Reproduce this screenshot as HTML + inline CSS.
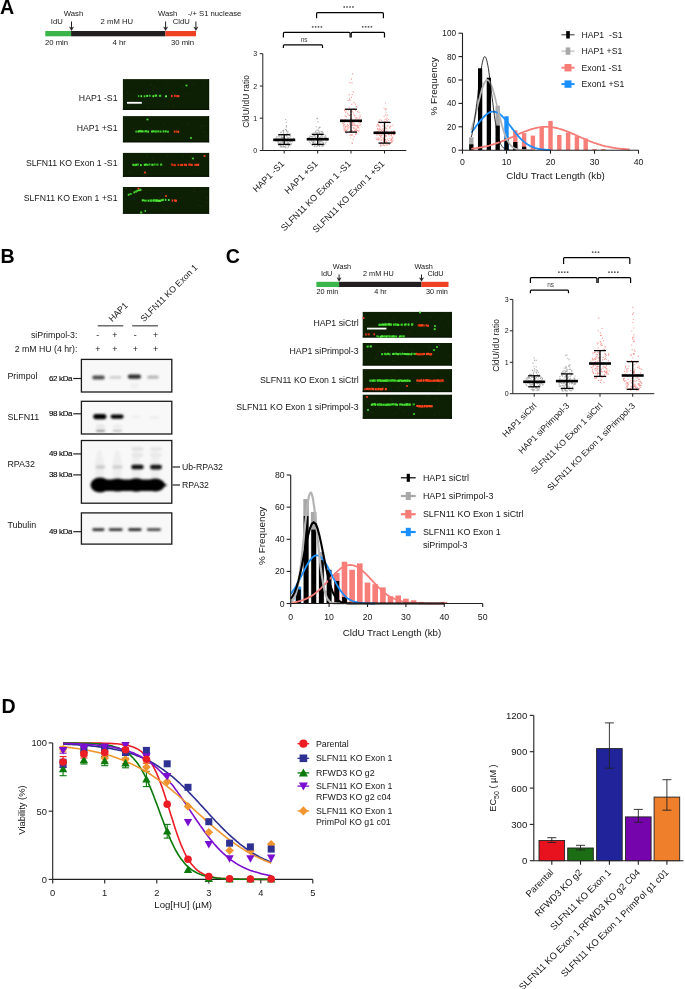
<!DOCTYPE html>
<html><head><meta charset="utf-8"><title>Figure</title>
<style>html,body{margin:0;padding:0;background:#fff;overflow:hidden;} svg{display:block;will-change:transform;}</style>
</head><body>
<svg width="685" height="989" viewBox="0 0 685 989" font-family='"Liberation Sans", sans-serif'>
<defs><filter id="fb" x="-20%" y="-50%" width="140%" height="200%"><feGaussianBlur stdDeviation="0.55"/></filter><filter id="bl" x="-30%" y="-100%" width="160%" height="300%"><feGaussianBlur stdDeviation="1.1"/></filter><filter id="bl2" x="-30%" y="-100%" width="160%" height="300%"><feGaussianBlur stdDeviation="0.8"/></filter></defs>
<rect width="685" height="989" fill="#fff"/>
<text x="0.0" y="14.1" font-size="19.6" text-anchor="start" font-weight="bold" fill="#000" >A</text>
<rect x="45.3" y="31.0" width="25.8" height="5.3" fill="#39b54a" />
<rect x="71.1" y="31.0" width="94.3" height="5.3" fill="#231f20" />
<rect x="165.4" y="31.0" width="30.6" height="5.3" fill="#ef4123" />
<text x="50.8" y="23.5" font-size="7.7" text-anchor="start" font-weight="normal" fill="#161616" >IdU</text>
<text x="63.8" y="16.0" font-size="7.7" text-anchor="start" font-weight="normal" fill="#161616" >Wash</text>
<text x="100.6" y="23.7" font-size="7.7" text-anchor="start" font-weight="normal" fill="#161616" >2 mM HU</text>
<text x="158.0" y="16.0" font-size="7.7" text-anchor="start" font-weight="normal" fill="#161616" >Wash</text>
<text x="172.8" y="23.7" font-size="7.7" text-anchor="start" font-weight="normal" fill="#161616" >CldU</text>
<text x="187.7" y="16.0" font-size="7.7" text-anchor="start" font-weight="normal" fill="#161616" >-/+ S1 nuclease</text>
<text x="45.0" y="45.2" font-size="7.7" text-anchor="start" font-weight="normal" fill="#161616" >20 min</text>
<text x="112.5" y="45.2" font-size="7.7" text-anchor="start" font-weight="normal" fill="#161616" >4 hr</text>
<text x="171.0" y="45.2" font-size="7.7" text-anchor="start" font-weight="normal" fill="#161616" >30 min</text>
<line x1="71.5" y1="21.5" x2="71.5" y2="28.5" stroke="#231f20" stroke-width="1.0" />
<path d="M69.5 26.9 L71.5 30.5 L73.5 26.9 L71.5 28.3Z" fill="#231f20" stroke="#231f20" stroke-width="0.5" stroke-linejoin="round"/>
<line x1="165.6" y1="21.5" x2="165.6" y2="28.5" stroke="#231f20" stroke-width="1.0" />
<path d="M163.6 26.9 L165.6 30.5 L167.6 26.9 L165.6 28.3Z" fill="#231f20" stroke="#231f20" stroke-width="0.5" stroke-linejoin="round"/>
<line x1="195.9" y1="21.5" x2="195.9" y2="28.5" stroke="#231f20" stroke-width="1.0" />
<path d="M193.9 26.9 L195.9 30.5 L197.9 26.9 L195.9 28.3Z" fill="#231f20" stroke="#231f20" stroke-width="0.5" stroke-linejoin="round"/>
<rect x="122.9" y="79.1" width="86.2" height="30.9" fill="#0e2004"/>
<rect x="122.9" y="108.8" width="86.2" height="1.2" fill="#071402"/>
<rect x="208.1" y="79.1" width="1" height="30.9" fill="#091803"/>
<rect x="150.8" y="84.3" width="1.2" height="1.2" fill="#163508"/>
<rect x="129.9" y="95.1" width="1.2" height="1.2" fill="#282408"/>
<rect x="172.4" y="105.5" width="1.2" height="1.2" fill="#202e08"/>
<rect x="127.0" y="92.2" width="1.2" height="1.2" fill="#163508"/>
<rect x="143.9" y="95.5" width="1.2" height="1.2" fill="#163508"/>
<rect x="192.7" y="83.6" width="1.2" height="1.2" fill="#202e08"/>
<rect x="176.4" y="96.4" width="1.2" height="1.2" fill="#163508"/>
<rect x="171.9" y="91.2" width="1.2" height="1.2" fill="#202e08"/>
<rect x="127.8" y="104.1" width="1.2" height="1.2" fill="#282408"/>
<rect x="158.8" y="95.2" width="1.2" height="1.2" fill="#282408"/>
<rect x="170.5" y="99.1" width="1.2" height="1.2" fill="#163508"/>
<rect x="172.3" y="97.9" width="1.2" height="1.2" fill="#282408"/>
<rect x="132.0" y="100.0" width="1.2" height="1.2" fill="#163508"/>
<rect x="175.4" y="93.9" width="1.2" height="1.2" fill="#173306"/>
<rect x="188.6" y="93.1" width="1.2" height="1.2" fill="#173306"/>
<rect x="154.0" y="87.0" width="1.2" height="1.2" fill="#202e08"/>
<rect x="182.1" y="86.9" width="1.2" height="1.2" fill="#282408"/>
<rect x="167.6" y="104.5" width="1.2" height="1.2" fill="#173306"/>
<rect x="147.9" y="107.4" width="1.2" height="1.2" fill="#163508"/>
<rect x="166.5" y="84.7" width="1.2" height="1.2" fill="#282408"/>
<rect x="136.5" y="93.7" width="1.2" height="1.2" fill="#163508"/>
<rect x="203.9" y="82.3" width="1.2" height="1.2" fill="#282408"/>
<rect x="152.2" y="89.9" width="1.2" height="1.2" fill="#173306"/>
<rect x="172.1" y="92.8" width="1.2" height="1.2" fill="#163508"/>
<g filter="url(#fb)">
<rect x="137.9" y="95.1" width="1.4" height="2" fill="#2fb820"/>
<rect x="140.5" y="95.2" width="1.6" height="2" fill="#55e83c"/>
<rect x="143.7" y="95.3" width="1.7" height="2" fill="#3fd22a"/>
<rect x="146.2" y="94.9" width="2.0" height="2" fill="#55e83c"/>
<rect x="149.0" y="94.7" width="1.7" height="2" fill="#2fb820"/>
<rect x="152.4" y="95.2" width="1.6" height="2" fill="#55e83c"/>
<rect x="154.5" y="94.7" width="1.5" height="2" fill="#3fd22a"/>
<rect x="155.3" y="94.6" width="1.8" height="2" fill="#4ae035"/>
<rect x="158.9" y="94.8" width="2.3" height="2" fill="#3fd22a"/>
<rect x="165.0" y="95.3" width="2.0" height="2" fill="#55e83c"/>
<rect x="170.9" y="95.0" width="1.7" height="2.1" fill="#f03a18"/>
<rect x="174.1" y="94.8" width="1.6" height="2.1" fill="#f03a18"/>
<rect x="176.1" y="95.0" width="2.2" height="2.1" fill="#d83010"/>
<rect x="177.9" y="95.1" width="1.4" height="2.1" fill="#ff4a22"/>
<circle cx="186.5" cy="85.5" r="1.1" fill="#41d12e"/>
</g>
<rect x="127.0" y="101.9" width="14.8" height="1.8" fill="#fff" />
<rect x="122.9" y="116.1" width="86.2" height="26.2" fill="#0e2004"/>
<rect x="122.9" y="141.1" width="86.2" height="1.2" fill="#071402"/>
<rect x="208.1" y="116.1" width="1" height="26.2" fill="#091803"/>
<rect x="203.4" y="131.1" width="1.2" height="1.2" fill="#173306"/>
<rect x="134.1" y="136.8" width="1.2" height="1.2" fill="#173306"/>
<rect x="163.9" y="124.3" width="1.2" height="1.2" fill="#202e08"/>
<rect x="132.4" y="125.0" width="1.2" height="1.2" fill="#282408"/>
<rect x="163.7" y="133.2" width="1.2" height="1.2" fill="#163508"/>
<rect x="141.0" y="139.2" width="1.2" height="1.2" fill="#282408"/>
<rect x="136.1" y="129.7" width="1.2" height="1.2" fill="#163508"/>
<rect x="187.0" y="124.0" width="1.2" height="1.2" fill="#163508"/>
<rect x="181.8" y="123.2" width="1.2" height="1.2" fill="#282408"/>
<rect x="199.5" y="125.4" width="1.2" height="1.2" fill="#202e08"/>
<rect x="168.2" y="135.2" width="1.2" height="1.2" fill="#282408"/>
<rect x="176.9" y="131.3" width="1.2" height="1.2" fill="#202e08"/>
<rect x="191.0" y="136.1" width="1.2" height="1.2" fill="#202e08"/>
<rect x="140.5" y="128.5" width="1.2" height="1.2" fill="#163508"/>
<rect x="206.2" y="135.4" width="1.2" height="1.2" fill="#173306"/>
<rect x="145.5" y="133.2" width="1.2" height="1.2" fill="#282408"/>
<rect x="161.1" y="138.8" width="1.2" height="1.2" fill="#282408"/>
<rect x="203.4" y="125.6" width="1.2" height="1.2" fill="#202e08"/>
<rect x="132.4" y="128.0" width="1.2" height="1.2" fill="#282408"/>
<rect x="140.9" y="131.6" width="1.2" height="1.2" fill="#163508"/>
<g filter="url(#fb)">
<rect x="135.4" y="130.6" width="1.4" height="2" fill="#3fd22a"/>
<rect x="137.4" y="130.6" width="1.8" height="2" fill="#4ae035"/>
<rect x="138.4" y="130.2" width="2.2" height="2" fill="#55e83c"/>
<rect x="140.0" y="130.2" width="1.5" height="2" fill="#4ae035"/>
<rect x="141.1" y="130.4" width="2.0" height="2" fill="#55e83c"/>
<rect x="143.3" y="130.4" width="1.4" height="2" fill="#3fd22a"/>
<rect x="145.0" y="130.2" width="2.0" height="2" fill="#4ae035"/>
<rect x="146.1" y="130.6" width="1.5" height="2" fill="#2fb820"/>
<rect x="147.5" y="130.6" width="1.6" height="2" fill="#55e83c"/>
<rect x="151.1" y="130.5" width="2.1" height="2" fill="#55e83c"/>
<rect x="152.7" y="130.2" width="1.5" height="2" fill="#3fd22a"/>
<rect x="154.3" y="130.5" width="2.1" height="2" fill="#4ae035"/>
<rect x="155.1" y="130.5" width="1.9" height="2" fill="#2fb820"/>
<rect x="157.2" y="130.4" width="2.1" height="2" fill="#3fd22a"/>
<rect x="159.7" y="130.6" width="1.8" height="2" fill="#3fd22a"/>
<rect x="162.6" y="130.4" width="1.9" height="2" fill="#4ae035"/>
<rect x="164.9" y="130.4" width="1.8" height="2" fill="#4ae035"/>
<rect x="167.2" y="130.7" width="1.6" height="2" fill="#4ae035"/>
<rect x="173.8" y="130.5" width="1.5" height="2.1" fill="#f03a18"/>
<rect x="175.6" y="130.6" width="2.1" height="2.1" fill="#d83010"/>
<rect x="177.8" y="130.7" width="1.4" height="2.1" fill="#ff4a22"/>
<circle cx="147.5" cy="119.5" r="1.1" fill="#41d12e"/>
<circle cx="191.0" cy="138.0" r="1.1" fill="#41d12e"/>
</g>
<rect x="122.9" y="152.9" width="86.2" height="23.9" fill="#0e2004"/>
<rect x="122.9" y="175.6" width="86.2" height="1.2" fill="#071402"/>
<rect x="208.1" y="152.9" width="1" height="23.9" fill="#091803"/>
<rect x="142.2" y="173.8" width="1.2" height="1.2" fill="#173306"/>
<rect x="197.5" y="157.3" width="1.2" height="1.2" fill="#202e08"/>
<rect x="137.3" y="162.9" width="1.2" height="1.2" fill="#173306"/>
<rect x="152.1" y="158.0" width="1.2" height="1.2" fill="#282408"/>
<rect x="131.6" y="161.5" width="1.2" height="1.2" fill="#282408"/>
<rect x="170.0" y="163.1" width="1.2" height="1.2" fill="#163508"/>
<rect x="155.9" y="164.7" width="1.2" height="1.2" fill="#282408"/>
<rect x="166.5" y="155.2" width="1.2" height="1.2" fill="#202e08"/>
<rect x="204.7" y="156.1" width="1.2" height="1.2" fill="#282408"/>
<rect x="146.5" y="172.8" width="1.2" height="1.2" fill="#202e08"/>
<rect x="146.4" y="156.6" width="1.2" height="1.2" fill="#173306"/>
<rect x="194.6" y="168.0" width="1.2" height="1.2" fill="#282408"/>
<rect x="157.7" y="165.1" width="1.2" height="1.2" fill="#173306"/>
<rect x="182.2" y="155.8" width="1.2" height="1.2" fill="#163508"/>
<rect x="190.4" y="157.7" width="1.2" height="1.2" fill="#163508"/>
<rect x="146.3" y="154.3" width="1.2" height="1.2" fill="#163508"/>
<rect x="190.6" y="155.7" width="1.2" height="1.2" fill="#202e08"/>
<rect x="129.4" y="171.9" width="1.2" height="1.2" fill="#173306"/>
<g filter="url(#fb)">
<rect x="132.3" y="163.8" width="2.2" height="2" fill="#4ae035"/>
<rect x="133.9" y="164.1" width="2.3" height="2" fill="#2fb820"/>
<rect x="135.4" y="163.7" width="1.6" height="2" fill="#4ae035"/>
<rect x="137.2" y="163.6" width="1.6" height="2" fill="#3fd22a"/>
<rect x="140.0" y="164.1" width="1.8" height="2" fill="#4ae035"/>
<rect x="143.8" y="163.8" width="2.1" height="2" fill="#55e83c"/>
<rect x="145.5" y="163.6" width="1.5" height="2" fill="#4ae035"/>
<rect x="146.9" y="163.9" width="1.7" height="2" fill="#2fb820"/>
<rect x="148.6" y="163.5" width="1.9" height="2" fill="#2fb820"/>
<rect x="151.3" y="163.8" width="2.3" height="2" fill="#4ae035"/>
<rect x="153.9" y="163.5" width="1.7" height="2" fill="#2fb820"/>
<rect x="156.2" y="163.6" width="2.3" height="2" fill="#2fb820"/>
<rect x="160.1" y="163.6" width="2.1" height="2" fill="#3fd22a"/>
<rect x="171.2" y="163.6" width="1.9" height="2.1" fill="#d83010"/>
<rect x="173.4" y="164.0" width="2.1" height="2.1" fill="#d83010"/>
<rect x="174.3" y="164.1" width="1.4" height="2.1" fill="#d83010"/>
<rect x="177.4" y="163.8" width="1.7" height="2.1" fill="#d83010"/>
<rect x="179.8" y="164.0" width="2.1" height="2.1" fill="#d83010"/>
<rect x="181.2" y="163.9" width="2.0" height="2.1" fill="#f03a18"/>
<rect x="183.9" y="163.7" width="1.8" height="2.1" fill="#f03a18"/>
<rect x="185.2" y="163.9" width="1.8" height="2.1" fill="#f03a18"/>
<rect x="188.2" y="163.6" width="1.8" height="2.1" fill="#d83010"/>
<rect x="189.4" y="163.5" width="1.6" height="2.1" fill="#d83010"/>
<rect x="190.7" y="163.9" width="1.8" height="2.1" fill="#ff4a22"/>
<rect x="191.4" y="163.7" width="1.3" height="2.1" fill="#d83010"/>
<rect x="194.2" y="163.9" width="1.6" height="2.1" fill="#d83010"/>
<rect x="195.5" y="163.8" width="2.3" height="2.1" fill="#f03a18"/>
<rect x="197.4" y="163.7" width="1.8" height="2.1" fill="#ff4a22"/>
<circle cx="145.0" cy="172.5" r="1.1" fill="#f2401c"/>
<circle cx="193.0" cy="158.5" r="1.1" fill="#41d12e"/>
<circle cx="204.5" cy="156.0" r="1.1" fill="#f2401c"/>
</g>
<rect x="122.9" y="187.0" width="86.2" height="26.7" fill="#0e2004"/>
<rect x="122.9" y="212.5" width="86.2" height="1.2" fill="#071402"/>
<rect x="208.1" y="187.0" width="1" height="26.7" fill="#091803"/>
<rect x="162.7" y="206.2" width="1.2" height="1.2" fill="#202e08"/>
<rect x="149.8" y="190.0" width="1.2" height="1.2" fill="#173306"/>
<rect x="125.4" y="198.9" width="1.2" height="1.2" fill="#173306"/>
<rect x="206.6" y="197.2" width="1.2" height="1.2" fill="#202e08"/>
<rect x="130.1" y="190.1" width="1.2" height="1.2" fill="#282408"/>
<rect x="203.2" y="191.1" width="1.2" height="1.2" fill="#282408"/>
<rect x="197.7" y="204.7" width="1.2" height="1.2" fill="#202e08"/>
<rect x="165.3" y="208.8" width="1.2" height="1.2" fill="#173306"/>
<rect x="126.0" y="188.1" width="1.2" height="1.2" fill="#173306"/>
<rect x="180.6" y="197.6" width="1.2" height="1.2" fill="#202e08"/>
<rect x="158.5" y="196.9" width="1.2" height="1.2" fill="#163508"/>
<rect x="193.8" y="188.0" width="1.2" height="1.2" fill="#282408"/>
<rect x="193.7" y="190.8" width="1.2" height="1.2" fill="#202e08"/>
<rect x="183.2" y="209.4" width="1.2" height="1.2" fill="#282408"/>
<rect x="145.0" y="189.5" width="1.2" height="1.2" fill="#173306"/>
<rect x="207.0" y="202.0" width="1.2" height="1.2" fill="#282408"/>
<rect x="200.9" y="205.9" width="1.2" height="1.2" fill="#163508"/>
<rect x="147.2" y="189.2" width="1.2" height="1.2" fill="#282408"/>
<rect x="176.7" y="191.5" width="1.2" height="1.2" fill="#282408"/>
<rect x="160.2" y="195.5" width="1.2" height="1.2" fill="#282408"/>
<g filter="url(#fb)">
<rect x="141.8" y="199.3" width="2.1" height="2" fill="#55e83c"/>
<rect x="144.0" y="199.6" width="2.0" height="2" fill="#3fd22a"/>
<rect x="146.2" y="199.7" width="1.4" height="2" fill="#2fb820"/>
<rect x="147.9" y="199.6" width="1.5" height="2" fill="#55e83c"/>
<rect x="149.8" y="199.7" width="2.3" height="2" fill="#2fb820"/>
<rect x="149.9" y="199.6" width="2.0" height="2" fill="#3fd22a"/>
<rect x="151.4" y="199.6" width="1.5" height="2" fill="#2fb820"/>
<rect x="153.0" y="199.4" width="1.5" height="2" fill="#3fd22a"/>
<rect x="153.0" y="199.5" width="1.7" height="2" fill="#4ae035"/>
<rect x="154.6" y="199.5" width="1.7" height="2" fill="#4ae035"/>
<rect x="154.9" y="199.3" width="1.6" height="2" fill="#2fb820"/>
<rect x="155.5" y="199.7" width="2.2" height="2" fill="#4ae035"/>
<rect x="156.3" y="199.5" width="1.9" height="2" fill="#55e83c"/>
<rect x="158.0" y="199.8" width="1.3" height="2" fill="#3fd22a"/>
<rect x="158.3" y="199.8" width="2.3" height="2" fill="#55e83c"/>
<rect x="158.7" y="199.9" width="2.1" height="2" fill="#55e83c"/>
<rect x="160.5" y="199.4" width="1.5" height="2" fill="#3fd22a"/>
<rect x="161.4" y="199.1" width="2.1" height="2" fill="#55e83c"/>
<rect x="162.4" y="198.7" width="1.4" height="2" fill="#3fd22a"/>
<rect x="164.8" y="198.8" width="1.6" height="2" fill="#55e83c"/>
<rect x="167.9" y="199.0" width="1.7" height="2" fill="#4ae035"/>
<rect x="127.8" y="193.8" width="1.6" height="2" fill="#4ae035"/>
<rect x="129.5" y="193.0" width="2.3" height="2" fill="#2fb820"/>
<rect x="133.4" y="191.4" width="1.5" height="2" fill="#55e83c"/>
<rect x="135.2" y="190.6" width="1.6" height="2" fill="#55e83c"/>
<rect x="136.4" y="189.8" width="1.6" height="2" fill="#3fd22a"/>
<rect x="138.0" y="189.2" width="2.1" height="2" fill="#4ae035"/>
<rect x="140.0" y="188.8" width="1.4" height="2" fill="#55e83c"/>
<rect x="140.1" y="211.5" width="2.2" height="2" fill="#3fd22a"/>
<rect x="144.6" y="210.0" width="1.4" height="2" fill="#3fd22a"/>
<rect x="171.6" y="199.5" width="1.4" height="2.1" fill="#f03a18"/>
<rect x="173.7" y="199.4" width="2.2" height="2.1" fill="#d83010"/>
<rect x="174.8" y="199.7" width="2.1" height="2.1" fill="#ff4a22"/>
<circle cx="138.5" cy="188.5" r="1.1" fill="#f2401c"/>
<circle cx="166.0" cy="196.0" r="1.1" fill="#f2401c"/>
</g>
<text x="117.5" y="100.5" font-size="8.7" text-anchor="end" font-weight="normal" fill="#161616" >HAP1 -S1</text>
<text x="117.5" y="130.7" font-size="8.7" text-anchor="end" font-weight="normal" fill="#161616" >HAP1 +S1</text>
<text x="117.5" y="166.0" font-size="8.7" text-anchor="end" font-weight="normal" fill="#161616" >SLFN11 KO Exon 1 -S1</text>
<text x="117.5" y="200.5" font-size="8.7" text-anchor="end" font-weight="normal" fill="#161616" >SLFN11 KO Exon 1 +S1</text>
<line x1="262.8" y1="53.7" x2="262.8" y2="150.5" stroke="#231f20" stroke-width="1" />
<line x1="262.8" y1="150.5" x2="406.3" y2="150.5" stroke="#231f20" stroke-width="1" />
<line x1="259.8" y1="150.5" x2="262.8" y2="150.5" stroke="#231f20" stroke-width="1" />
<text x="257.2" y="153.0" font-size="7.0" text-anchor="end" font-weight="normal" fill="#161616" >0</text>
<line x1="259.8" y1="118.2" x2="262.8" y2="118.2" stroke="#231f20" stroke-width="1" />
<text x="257.2" y="120.7" font-size="7.0" text-anchor="end" font-weight="normal" fill="#161616" >1</text>
<line x1="259.8" y1="86.0" x2="262.8" y2="86.0" stroke="#231f20" stroke-width="1" />
<text x="257.2" y="88.5" font-size="7.0" text-anchor="end" font-weight="normal" fill="#161616" >2</text>
<line x1="259.8" y1="53.7" x2="262.8" y2="53.7" stroke="#231f20" stroke-width="1" />
<text x="257.2" y="56.2" font-size="7.0" text-anchor="end" font-weight="normal" fill="#161616" >3</text>
<line x1="284.2" y1="150.5" x2="284.2" y2="153.5" stroke="#231f20" stroke-width="1" />
<path d="M277.7 138.1h1M276.6 138.9h1M279.7 146.1h1M285.3 135.0h1M281.5 139.6h1M288.0 144.6h1M276.8 139.4h1M277.4 144.0h1M277.1 139.2h1M289.9 141.8h1M282.2 140.7h1M285.4 142.9h1M289.8 144.9h1M288.8 141.2h1M278.9 143.4h1M282.8 132.8h1M280.8 146.6h1M277.8 138.8h1M275.5 139.8h1M283.0 133.1h1M288.2 143.7h1M289.4 137.2h1M286.7 147.7h1M280.5 137.9h1M290.9 139.3h1M275.5 138.2h1M290.8 143.5h1M281.0 142.7h1M285.4 146.0h1M285.0 129.5h1M280.7 132.1h1M288.1 137.7h1M287.1 143.9h1M287.9 147.0h1M286.9 141.0h1M288.0 146.3h1M286.1 135.8h1M285.2 147.7h1M278.2 138.8h1M283.7 141.9h1M285.5 141.0h1M278.3 145.1h1M292.7 138.4h1M279.7 145.0h1M281.4 138.8h1M277.8 142.2h1M293.5 140.5h1M290.5 139.8h1M279.3 136.1h1M291.5 141.6h1M290.9 140.8h1M287.3 142.4h1M287.5 139.0h1M283.1 130.3h1M283.0 146.0h1M283.4 137.8h1M289.0 144.7h1M289.7 140.2h1M286.8 137.2h1M281.3 135.7h1M280.0 143.1h1M282.6 144.3h1M281.9 142.6h1M284.3 140.6h1M278.2 141.9h1M274.4 138.8h1M289.7 133.8h1M283.6 136.9h1M283.2 138.5h1M285.8 135.0h1M285.6 126.9h1M290.8 140.8h1M290.3 138.7h1M282.4 137.6h1M280.3 147.2h1M281.6 137.4h1M282.6 145.5h1M289.8 141.9h1M284.3 139.1h1M286.6 143.8h1M275.1 140.6h1M278.3 136.1h1M292.6 139.9h1M281.2 136.1h1M288.0 142.7h1M276.0 138.7h1M289.2 139.5h1M290.3 135.9h1M286.9 137.2h1M289.6 141.6h1M276.4 136.5h1M275.8 138.4h1M286.5 139.7h1M286.4 133.9h1M276.6 141.2h1M277.2 141.7h1M291.7 141.1h1M280.0 139.6h1M286.0 129.8h1M290.1 139.6h1M287.9 139.2h1M287.1 134.6h1M281.5 146.8h1M287.4 132.8h1M286.4 139.7h1M279.4 138.3h1M282.6 147.2h1M285.6 145.2h1M292.2 139.2h1M283.4 138.1h1M280.0 142.9h1M293.5 140.1h1M284.0 146.5h1M285.4 144.9h1M286.5 140.1h1M279.0 140.3h1M282.5 144.8h1M280.6 145.6h1M282.3 140.6h1M286.9 138.8h1M279.8 140.6h1M280.8 138.6h1M281.8 138.5h1M290.0 139.9h1M279.6 141.0h1M287.6 145.3h1M275.8 137.8h1M289.3 144.4h1M290.7 144.5h1M283.6 135.0h1M284.6 138.8h1M288.0 139.3h1M289.1 145.4h1M279.2 139.7h1M284.5 147.1h1M289.2 135.1h1M288.8 141.3h1M281.9 142.3h1M283.0 146.7h1M281.7 141.3h1M278.2 142.9h1M281.1 137.5h1M280.3 132.7h1M278.8 140.4h1M286.4 141.2h1M293.3 139.1h1M280.1 140.1h1M284.4 146.6h1M282.7 131.6h1M293.4 138.9h1M285.7 122.5h1M286.0 125.9h1M287.2 131.4h1M285.9 131.1h1M285.2 119.5h1M282.4 130.5h1" stroke="#aaaaaa" stroke-width="1.15" fill="none"/>
<line x1="317.7" y1="150.5" x2="317.7" y2="153.5" stroke="#231f20" stroke-width="1" />
<path d="M319.6 141.0h1M317.5 132.4h1M314.4 143.3h1M322.2 136.9h1M321.4 133.7h1M308.8 137.5h1M318.1 140.4h1M309.8 140.2h1M317.3 133.1h1M309.3 137.0h1M318.9 141.2h1M320.3 133.5h1M322.2 144.3h1M319.2 140.3h1M313.5 140.1h1M316.5 136.7h1M318.0 145.5h1M315.6 132.2h1M322.7 138.7h1M308.9 138.5h1M314.9 136.7h1M313.9 146.6h1M321.4 140.9h1M324.2 138.7h1M324.5 134.7h1M318.8 133.4h1M326.7 140.3h1M317.8 130.1h1M319.2 137.5h1M310.9 139.6h1M322.3 134.7h1M322.2 146.0h1M314.5 145.2h1M312.0 142.4h1M323.0 145.0h1M323.0 139.8h1M317.5 139.1h1M327.5 139.1h1M318.9 138.2h1M309.8 138.8h1M314.3 138.0h1M310.5 136.5h1M325.7 137.2h1M325.3 140.4h1M320.8 144.8h1M316.6 144.0h1M320.5 137.5h1M315.9 134.3h1M315.8 146.3h1M316.3 140.0h1M318.5 142.3h1M312.7 143.4h1M324.8 143.7h1M319.8 143.1h1M322.6 132.7h1M311.1 136.5h1M318.5 131.2h1M321.5 139.5h1M318.9 145.4h1M308.5 138.3h1M319.0 143.0h1M318.0 135.4h1M324.7 137.5h1M316.7 140.3h1M318.7 140.9h1M314.5 141.8h1M317.1 135.3h1M321.5 139.3h1M313.0 140.8h1M312.7 141.2h1M316.5 130.4h1M319.1 146.4h1M320.9 135.5h1M317.8 140.6h1M315.3 132.5h1M322.4 136.9h1M323.2 142.5h1M318.9 146.1h1M318.8 127.6h1M322.7 145.8h1M321.5 142.5h1M318.3 128.2h1M314.8 137.5h1M312.6 140.5h1M325.6 142.3h1M312.9 139.3h1M321.6 131.3h1M324.1 144.6h1M311.1 138.3h1M320.5 136.4h1M312.3 136.4h1M311.0 140.9h1M313.0 144.4h1M314.7 134.8h1M315.7 146.3h1M315.3 132.5h1M315.9 126.7h1M322.0 145.9h1M314.0 135.8h1M322.8 144.4h1M317.3 145.3h1M308.1 138.1h1M324.6 138.0h1M316.4 139.2h1M313.1 135.7h1M327.2 140.2h1M315.5 132.6h1M311.9 145.1h1M314.4 144.4h1M321.3 135.0h1M309.0 142.0h1M312.7 140.4h1M324.2 136.8h1M321.7 138.7h1M319.3 141.3h1M320.5 141.3h1M320.8 131.5h1M321.0 140.3h1M320.4 136.5h1M325.2 138.7h1M320.5 140.1h1M319.3 140.4h1M312.4 137.8h1M311.4 138.6h1M312.7 134.0h1M317.0 145.9h1M313.9 135.3h1M318.7 127.4h1M321.5 146.4h1M312.7 140.8h1M316.5 133.1h1M320.3 145.0h1M311.0 140.4h1M322.6 144.0h1M317.4 139.1h1M309.7 135.8h1M319.5 127.3h1M318.0 136.6h1M319.3 132.1h1M323.2 143.6h1M321.6 132.1h1M315.1 134.8h1M309.9 143.0h1M322.8 143.4h1M322.5 133.2h1M313.5 132.6h1M313.2 141.7h1M313.0 142.5h1M321.8 141.2h1M325.3 135.9h1M315.1 131.3h1M317.1 118.2h1M324.5 138.1h1M317.5 122.0h1M316.5 118.6h1M317.6 121.8h1" stroke="#aaaaaa" stroke-width="1.15" fill="none"/>
<line x1="351.0" y1="150.5" x2="351.0" y2="153.5" stroke="#231f20" stroke-width="1" />
<path d="M349.0 98.9h1M355.3 120.8h1M344.6 128.0h1M359.6 115.2h1M342.9 123.1h1M358.1 131.4h1M349.1 115.6h1M352.1 122.9h1M350.1 138.0h1M352.4 124.4h1M349.0 124.2h1M345.9 133.1h1M342.9 127.0h1M356.6 127.7h1M350.5 125.0h1M356.3 120.1h1M348.7 94.9h1M351.0 110.8h1M351.6 131.0h1M349.2 131.3h1M344.6 126.4h1M354.3 124.7h1M354.5 125.6h1M356.9 111.6h1M349.3 82.6h1M343.5 129.1h1M351.5 82.9h1M353.5 123.4h1M345.3 127.7h1M354.3 121.1h1M358.3 119.0h1M349.5 124.1h1M343.0 120.6h1M358.4 128.0h1M343.7 130.8h1M356.1 132.4h1M343.8 120.3h1M347.6 127.1h1M354.2 130.4h1M355.3 134.6h1M344.7 119.6h1M344.0 130.7h1M347.5 100.3h1M352.3 122.9h1M352.2 130.9h1M356.3 133.3h1M351.0 135.1h1M351.4 119.1h1M357.5 120.6h1M353.3 102.6h1M349.9 131.4h1M352.6 139.3h1M349.3 127.0h1M344.6 131.0h1M354.4 115.9h1M352.1 134.9h1M358.6 130.2h1M353.1 109.0h1M344.8 126.9h1M354.9 110.4h1M351.9 125.3h1M343.1 125.3h1M350.5 117.7h1M358.4 125.7h1M353.4 125.5h1M349.8 111.9h1M344.2 109.4h1M354.1 115.4h1M358.1 131.3h1M352.7 91.9h1M346.6 130.1h1M343.7 124.2h1M350.6 132.5h1M347.3 128.8h1M352.4 121.6h1M350.0 118.7h1M355.5 125.9h1M355.7 106.3h1M349.5 135.2h1M354.8 130.3h1M354.8 118.0h1M345.7 110.8h1M356.2 121.1h1M347.5 128.3h1M351.9 130.8h1M351.0 114.7h1M353.4 131.9h1M356.9 130.5h1M359.1 118.0h1M342.2 123.1h1M344.1 110.6h1M343.7 128.8h1M357.7 127.4h1M354.2 128.1h1M353.0 128.5h1M348.8 122.3h1M349.6 100.3h1M352.6 112.2h1M359.7 124.8h1M357.1 126.5h1M352.9 114.0h1M347.7 114.8h1M359.6 116.9h1M354.4 130.8h1M350.6 131.3h1M344.9 126.2h1M356.4 106.8h1M345.0 129.8h1M360.0 122.4h1M344.7 116.1h1M355.0 132.8h1M350.6 130.4h1M356.4 117.6h1M350.2 114.3h1M346.8 126.1h1M354.7 131.5h1M347.9 125.5h1M347.9 109.9h1M351.8 143.5h1M351.8 94.5h1M356.7 125.2h1M352.7 127.5h1M356.7 130.2h1M354.1 109.4h1M341.4 119.4h1M344.1 122.2h1M357.2 125.4h1M351.6 142.8h1M360.5 121.0h1M346.4 126.3h1M349.7 134.9h1M348.5 120.9h1M356.3 118.1h1M346.0 116.7h1M350.1 126.6h1M354.8 119.9h1M348.8 107.9h1M347.1 113.3h1M345.8 130.4h1M355.0 104.1h1M353.6 136.9h1M355.7 128.9h1M346.9 124.4h1M345.2 112.4h1M358.7 122.6h1M360.8 119.2h1M344.3 124.7h1M358.6 112.2h1M355.6 130.1h1M352.0 122.2h1M352.1 73.8h1M351.0 79.1h1M351.3 104.3h1M351.6 111.1h1M350.9 97.3h1M348.9 115.2h1" stroke="#f59a96" stroke-width="1.15" fill="none"/>
<line x1="384.5" y1="150.5" x2="384.5" y2="153.5" stroke="#231f20" stroke-width="1" />
<path d="M382.3 131.7h1M383.4 143.6h1M378.7 126.3h1M390.9 135.8h1M392.3 125.2h1M377.4 131.9h1M386.9 139.1h1M383.8 145.6h1M384.7 135.9h1M384.7 135.6h1M383.6 141.0h1M389.6 126.7h1M391.5 140.9h1M380.5 136.6h1M382.2 125.3h1M375.4 131.6h1M383.0 140.2h1M380.2 135.8h1M378.2 131.0h1M390.1 140.1h1M384.9 139.6h1M379.2 135.2h1M378.1 134.2h1M386.5 131.1h1M391.1 132.5h1M390.9 140.2h1M388.2 140.5h1M389.2 138.2h1M378.0 131.8h1M380.1 144.9h1M387.9 134.6h1M386.0 120.0h1M378.7 128.8h1M381.3 139.9h1M375.6 138.0h1M388.3 134.2h1M384.9 135.8h1M391.3 133.1h1M392.3 137.0h1M384.7 119.3h1M381.6 129.7h1M380.2 131.6h1M386.8 125.9h1M391.5 141.0h1M377.5 139.2h1M382.8 137.7h1M389.3 127.9h1M377.8 137.7h1M387.3 125.8h1M379.7 129.1h1M385.4 142.0h1M392.5 140.1h1M379.3 119.8h1M386.5 118.1h1M385.4 144.2h1M389.6 123.0h1M381.6 132.7h1M393.0 134.6h1M391.5 141.7h1M378.7 122.4h1M382.8 144.9h1M379.4 133.7h1M387.1 115.2h1M390.4 142.3h1M388.3 143.2h1M389.1 144.3h1M386.0 135.9h1M391.7 138.1h1M380.6 137.3h1M377.1 128.6h1M385.7 108.6h1M383.8 121.4h1M376.4 139.4h1M390.5 135.2h1M377.4 129.7h1M380.3 140.2h1M376.3 133.8h1M385.4 114.9h1M379.9 122.7h1M383.6 108.5h1M385.2 121.8h1M393.5 130.8h1M376.3 126.1h1M393.0 131.5h1M387.6 143.9h1M379.9 136.1h1M391.2 134.3h1M386.5 142.0h1M383.8 128.1h1M379.4 130.2h1M383.5 128.6h1M381.6 134.8h1M376.6 135.1h1M380.0 142.8h1M381.3 142.9h1M383.8 130.1h1M385.8 141.1h1M389.7 133.5h1M378.1 140.0h1M377.3 129.1h1M390.8 140.2h1M385.3 127.7h1M379.6 127.2h1M381.3 145.3h1M387.4 126.0h1M383.9 139.8h1M383.6 116.1h1M391.5 141.0h1M377.3 123.8h1M385.5 115.2h1M386.9 121.1h1M386.3 128.7h1M386.0 142.1h1M378.5 121.6h1M393.8 131.0h1M379.7 146.3h1M382.2 126.0h1M382.7 138.2h1M391.2 131.5h1M388.8 134.6h1M390.3 126.1h1M385.7 136.2h1M394.1 134.6h1M381.0 130.5h1M382.8 139.2h1M385.6 128.5h1M381.1 135.5h1M378.5 139.4h1M386.6 145.1h1M381.7 129.0h1M391.0 138.8h1M387.8 133.2h1M376.2 139.5h1M376.7 131.7h1M380.9 120.2h1M381.0 133.3h1M379.3 138.7h1M385.6 112.2h1M379.1 135.3h1M382.9 130.6h1M383.0 141.8h1M394.4 132.3h1M383.6 128.4h1M377.4 124.6h1M391.5 142.2h1M391.2 142.6h1M378.2 122.4h1M390.8 139.1h1M386.9 132.8h1M392.0 138.2h1M385.2 109.6h1M385.0 103.0h1M387.9 119.5h1M377.1 124.7h1M377.9 125.4h1M378.3 125.5h1" stroke="#f59a96" stroke-width="1.15" fill="none"/>
<line x1="284.2" y1="134.7" x2="284.2" y2="144.4" stroke="#000" stroke-width="1.3" />
<line x1="278.2" y1="134.7" x2="290.2" y2="134.7" stroke="#000" stroke-width="1.3" />
<line x1="278.2" y1="144.4" x2="290.2" y2="144.4" stroke="#000" stroke-width="1.3" />
<line x1="273.2" y1="139.9" x2="295.2" y2="139.9" stroke="#000" stroke-width="2.6" />
<line x1="317.7" y1="134.4" x2="317.7" y2="144.4" stroke="#000" stroke-width="1.3" />
<line x1="311.7" y1="134.4" x2="323.7" y2="134.4" stroke="#000" stroke-width="1.3" />
<line x1="311.7" y1="144.4" x2="323.7" y2="144.4" stroke="#000" stroke-width="1.3" />
<line x1="306.7" y1="139.2" x2="328.7" y2="139.2" stroke="#000" stroke-width="2.6" />
<line x1="351.0" y1="109.2" x2="351.0" y2="132.1" stroke="#000" stroke-width="1.3" />
<line x1="345.0" y1="109.2" x2="357.0" y2="109.2" stroke="#000" stroke-width="1.3" />
<line x1="345.0" y1="132.1" x2="357.0" y2="132.1" stroke="#000" stroke-width="1.3" />
<line x1="340.0" y1="120.8" x2="362.0" y2="120.8" stroke="#000" stroke-width="2.6" />
<line x1="384.5" y1="122.4" x2="384.5" y2="143.1" stroke="#000" stroke-width="1.3" />
<line x1="378.5" y1="122.4" x2="390.5" y2="122.4" stroke="#000" stroke-width="1.3" />
<line x1="378.5" y1="143.1" x2="390.5" y2="143.1" stroke="#000" stroke-width="1.3" />
<line x1="373.5" y1="132.8" x2="395.5" y2="132.8" stroke="#000" stroke-width="2.6" />
<text transform="translate(249.0 101.5) rotate(-90)" font-size="8.4" text-anchor="middle" fill="#161616">CldU/IdU ratio</text>
<path d="M283.4 48.1 V45.9 Q283.4 44.9 284.4 44.9 H321.5 Q322.5 44.9 322.5 45.9 V48.1" fill="none" stroke="#000" stroke-width="1.2"/>
<text x="304.1" y="41.5" font-size="6.5" text-anchor="middle" font-weight="normal" fill="#444" >ns</text>
<path d="M283.4 37.4 V33.4 Q283.4 32.4 284.4 32.4 H349.1 Q350.1 32.4 350.1 33.4 V37.4" fill="none" stroke="#000" stroke-width="1.2"/>
<path d="M351.2 37.4 V33.4 Q351.2 32.4 352.2 32.4 H383.5 Q384.5 32.4 384.5 33.4 V37.4" fill="none" stroke="#000" stroke-width="1.2"/>
<path d="M316.6 18.2 V13.7 Q316.6 12.7 317.6 12.7 H382.4 Q383.4 12.7 383.4 13.7 V18.2" fill="none" stroke="#000" stroke-width="1.2"/>
<rect x="311.9" y="26.1" width="1.6" height="1.6" fill="#5a5a5a" />
<rect x="314.8" y="26.1" width="1.6" height="1.6" fill="#5a5a5a" />
<rect x="317.7" y="26.1" width="1.6" height="1.6" fill="#5a5a5a" />
<rect x="320.6" y="26.1" width="1.6" height="1.6" fill="#5a5a5a" />
<rect x="361.9" y="26.0" width="1.6" height="1.6" fill="#5a5a5a" />
<rect x="364.8" y="26.0" width="1.6" height="1.6" fill="#5a5a5a" />
<rect x="367.7" y="26.0" width="1.6" height="1.6" fill="#5a5a5a" />
<rect x="370.6" y="26.0" width="1.6" height="1.6" fill="#5a5a5a" />
<rect x="343.4" y="6.2" width="1.6" height="1.6" fill="#5a5a5a" />
<rect x="346.2" y="6.2" width="1.6" height="1.6" fill="#5a5a5a" />
<rect x="349.2" y="6.2" width="1.6" height="1.6" fill="#5a5a5a" />
<rect x="352.1" y="6.2" width="1.6" height="1.6" fill="#5a5a5a" />
<text transform="translate(284.7 164.5) rotate(-45)" font-size="9" text-anchor="end" fill="#161616">HAP1 -S1</text>
<text transform="translate(318.2 164.5) rotate(-45)" font-size="9" text-anchor="end" fill="#161616">HAP1 +S1</text>
<text transform="translate(351.5 164.5) rotate(-45)" font-size="9" text-anchor="end" fill="#161616">SLFN11 KO Exon 1 -S1</text>
<text transform="translate(385.0 164.5) rotate(-45)" font-size="9" text-anchor="end" fill="#161616">SLFN11 KO Exon 1 +S1</text>
<rect x="469.1" y="137.3" width="4.4" height="12.9" fill="#a8a8a8" />
<rect x="477.9" y="82.3" width="4.4" height="67.9" fill="#a8a8a8" />
<rect x="486.7" y="80.0" width="4.4" height="70.2" fill="#a8a8a8" />
<rect x="495.5" y="105.7" width="4.4" height="44.5" fill="#a8a8a8" />
<rect x="504.3" y="136.2" width="4.4" height="14.0" fill="#a8a8a8" />
<rect x="513.1" y="145.5" width="4.4" height="4.7" fill="#a8a8a8" />
<rect x="521.9" y="147.9" width="4.4" height="2.3" fill="#a8a8a8" />
<rect x="513.1" y="130.3" width="4.4" height="19.9" fill="#f77d79" />
<rect x="521.9" y="133.2" width="4.4" height="17.0" fill="#f77d79" />
<rect x="530.7" y="135.6" width="4.4" height="14.6" fill="#f77d79" />
<rect x="539.5" y="126.8" width="4.4" height="23.4" fill="#f77d79" />
<rect x="548.3" y="120.9" width="4.4" height="29.2" fill="#f77d79" />
<rect x="557.1" y="135.0" width="4.4" height="15.2" fill="#f77d79" />
<rect x="565.9" y="132.6" width="4.4" height="17.5" fill="#f77d79" />
<rect x="574.7" y="136.2" width="4.4" height="14.0" fill="#f77d79" />
<rect x="583.5" y="138.5" width="4.4" height="11.7" fill="#f77d79" />
<rect x="592.3" y="149.0" width="4.4" height="1.2" fill="#f77d79" />
<rect x="601.1" y="149.0" width="4.4" height="1.2" fill="#f77d79" />
<rect x="504.3" y="116.3" width="4.4" height="33.9" fill="#1a8fff" />
<rect x="469.2" y="144.3" width="4.2" height="5.8" fill="#000" />
<rect x="478.0" y="68.3" width="4.2" height="81.9" fill="#000" />
<rect x="486.8" y="77.7" width="4.2" height="72.5" fill="#000" />
<rect x="495.6" y="125.6" width="4.2" height="24.6" fill="#000" />
<rect x="504.4" y="138.5" width="4.2" height="11.7" fill="#000" />
<rect x="513.2" y="142.0" width="4.2" height="8.2" fill="#000" />
<rect x="522.0" y="146.7" width="4.2" height="3.5" fill="#000" />
<path d="M471.3 148.8L473.3 148.5L475.3 148.3L477.2 148.0L479.2 147.7L481.2 147.3L483.2 146.9L485.2 146.5L487.1 146.1L489.1 145.6L491.1 145.0L493.1 144.4L495.1 143.8L497.0 143.1L499.0 142.4L501.0 141.7L503.0 140.9L505.0 140.1L506.9 139.3L508.9 138.4L510.9 137.6L512.9 136.7L514.9 135.8L516.8 134.9L518.8 134.0L520.8 133.2L522.8 132.4L524.8 131.5L526.7 130.8L528.7 130.1L530.7 129.4L532.7 128.8L534.7 128.3L536.6 127.8L538.6 127.4L540.6 127.2L542.6 126.9L544.6 126.8L546.5 126.8L548.5 126.9L550.5 127.0L552.5 127.3L554.5 127.6L556.4 128.0L558.4 128.5L560.4 129.1L562.4 129.7L564.4 130.4L566.3 131.1L568.3 131.9L570.3 132.7L572.3 133.6L574.3 134.4L576.2 135.3L578.2 136.2L580.2 137.1L582.2 138.0L584.2 138.8L586.1 139.7L588.1 140.5L590.1 141.3L592.1 142.0L594.1 142.8L596.0 143.4L598.0 144.1L600.0 144.7L602.0 145.3L604.0 145.8L605.9 146.3L607.9 146.7L609.9 147.1L611.9 147.5L613.9 147.8L615.8 148.1L617.8 148.4L619.8 148.6L621.8 148.9L623.8 149.0L625.7 149.2L627.7 149.4L629.7 149.5" fill="none" stroke="#f77d79" stroke-width="1.8"/>
<path d="M471.3 132.5L472.3 131.3L473.3 130.0L474.3 128.7L475.3 127.4L476.2 126.1L477.2 124.7L478.2 123.4L479.2 122.2L480.2 120.9L481.2 119.7L482.2 118.6L483.2 117.5L484.2 116.5L485.2 115.5L486.1 114.6L487.1 113.9L488.1 113.2L489.1 112.7L490.1 112.2L491.1 111.9L492.1 111.7L493.1 111.6L494.1 111.6L495.1 111.8L496.1 112.1L497.0 112.5L498.0 113.0L499.0 113.6L500.0 114.3L501.0 115.1L502.0 116.0L503.0 117.0L504.0 118.1L505.0 119.2L505.9 120.4L506.9 121.6L507.9 122.9L508.9 124.2L509.9 125.5L510.9 126.8L511.9 128.1L512.9 129.4L513.9 130.7L514.9 132.0L515.9 133.2L516.8 134.4L517.8 135.6L518.8 136.7L519.8 137.8L520.8 138.8L521.8 139.8L522.8 140.7L523.8 141.6L524.8 142.4L525.8 143.1L526.7 143.8L527.7 144.5L528.7 145.1L529.7 145.7L530.7 146.2L531.7 146.6L532.7 147.0L533.7 147.4L534.7 147.8L535.6 148.1L536.6 148.3L537.6 148.6L538.6 148.8L539.6 149.0L540.6 149.2L541.6 149.3L542.6 149.4L543.6 149.5L544.6 149.6L545.5 149.7L546.5 149.8L547.5 149.9L548.5 149.9L549.5 150.0L550.5 150.0" fill="none" stroke="#1a8fff" stroke-width="1.8"/>
<path d="M471.3 130.3L472.1 127.8L472.8 125.1L473.6 122.3L474.4 119.4L475.1 116.3L475.9 113.1L476.7 109.9L477.5 106.7L478.2 103.5L479.0 100.3L479.8 97.2L480.5 94.3L481.3 91.5L482.1 88.9L482.9 86.6L483.6 84.6L484.4 83.0L485.2 81.6L485.9 80.7L486.7 80.1L487.5 80.0L488.2 80.3L489.0 80.9L489.8 82.0L490.6 83.4L491.3 85.2L492.1 87.3L492.9 89.6L493.6 92.3L494.4 95.1L495.2 98.1L495.9 101.2L496.7 104.4L497.5 107.6L498.2 110.9L499.0 114.1L499.8 117.2L500.6 120.2L501.3 123.1L502.1 125.9L502.9 128.5L503.6 131.0L504.4 133.2L505.2 135.3L505.9 137.2L506.7 138.9L507.5 140.5L508.3 141.9L509.0 143.1L509.8 144.2L510.6 145.1L511.3 146.0L512.1 146.7L512.9 147.3L513.6 147.8L514.4 148.2L515.2 148.6L516.0 148.9L516.7 149.2L517.5 149.4L518.3 149.5L519.0 149.7L519.8 149.8L520.6 149.9L521.4 150.0L522.1 150.0L522.9 150.1L523.7 150.1L524.4 150.1L525.2 150.1L526.0 150.2L526.7 150.2L527.5 150.2L528.3 150.2L529.0 150.2L529.8 150.2L530.6 150.2L531.4 150.2L532.1 150.2L532.9 150.2" fill="none" stroke="#b4b4b4" stroke-width="1.8"/>
<path d="M471.3 137.0L471.9 134.8L472.4 132.3L472.9 129.6L473.5 126.5L474.1 123.2L474.6 119.7L475.1 115.9L475.7 111.8L476.2 107.6L476.8 103.2L477.4 98.7L477.9 94.2L478.4 89.6L479.0 85.1L479.6 80.7L480.1 76.4L480.6 72.5L481.2 68.8L481.8 65.6L482.3 62.7L482.9 60.4L483.4 58.6L483.9 57.3L484.5 56.7L485.1 56.7L485.6 57.2L486.1 58.4L486.7 60.1L487.2 62.4L487.8 65.2L488.4 68.4L488.9 72.0L489.4 76.0L490.0 80.1L490.6 84.5L491.1 89.0L491.6 93.6L492.2 98.2L492.8 102.7L493.3 107.1L493.9 111.3L494.4 115.4L494.9 119.2L495.5 122.8L496.1 126.1L496.6 129.2L497.1 132.0L497.7 134.5L498.2 136.8L498.8 138.8L499.4 140.6L499.9 142.1L500.4 143.5L501.0 144.6L501.6 145.6L502.1 146.4L502.6 147.1L503.2 147.7L503.8 148.2L504.3 148.6L504.9 149.0L505.4 149.2L505.9 149.4L506.5 149.6L507.1 149.7L507.6 149.8L508.1 149.9L508.7 150.0L509.2 150.0L509.8 150.1L510.4 150.1L510.9 150.1L511.4 150.2L512.0 150.2L512.5 150.2L513.1 150.2L513.6 150.2L514.2 150.2L514.8 150.2L515.3 150.2" fill="none" stroke="#000" stroke-width="0.8"/>
<line x1="462.5" y1="33.2" x2="462.5" y2="150.2" stroke="#231f20" stroke-width="1.1" />
<line x1="462.5" y1="150.2" x2="638.5" y2="150.2" stroke="#231f20" stroke-width="1.1" />
<line x1="458.5" y1="150.2" x2="462.5" y2="150.2" stroke="#231f20" stroke-width="1.1" />
<text x="456.0" y="153.1" font-size="8.2" text-anchor="end" font-weight="normal" fill="#161616" >0</text>
<line x1="458.5" y1="126.8" x2="462.5" y2="126.8" stroke="#231f20" stroke-width="1.1" />
<text x="456.0" y="129.7" font-size="8.2" text-anchor="end" font-weight="normal" fill="#161616" >20</text>
<line x1="458.5" y1="103.4" x2="462.5" y2="103.4" stroke="#231f20" stroke-width="1.1" />
<text x="456.0" y="106.3" font-size="8.2" text-anchor="end" font-weight="normal" fill="#161616" >40</text>
<line x1="458.5" y1="80.0" x2="462.5" y2="80.0" stroke="#231f20" stroke-width="1.1" />
<text x="456.0" y="82.9" font-size="8.2" text-anchor="end" font-weight="normal" fill="#161616" >60</text>
<line x1="458.5" y1="56.6" x2="462.5" y2="56.6" stroke="#231f20" stroke-width="1.1" />
<text x="456.0" y="59.5" font-size="8.2" text-anchor="end" font-weight="normal" fill="#161616" >80</text>
<line x1="458.5" y1="33.2" x2="462.5" y2="33.2" stroke="#231f20" stroke-width="1.1" />
<text x="456.0" y="36.1" font-size="8.2" text-anchor="end" font-weight="normal" fill="#161616" >100</text>
<line x1="462.5" y1="150.2" x2="462.5" y2="153.7" stroke="#231f20" stroke-width="1.1" />
<text x="462.5" y="165.3" font-size="8.7" text-anchor="middle" font-weight="normal" fill="#161616" >0</text>
<line x1="506.5" y1="150.2" x2="506.5" y2="153.7" stroke="#231f20" stroke-width="1.1" />
<text x="506.5" y="165.3" font-size="8.7" text-anchor="middle" font-weight="normal" fill="#161616" >10</text>
<line x1="550.5" y1="150.2" x2="550.5" y2="153.7" stroke="#231f20" stroke-width="1.1" />
<text x="550.5" y="165.3" font-size="8.7" text-anchor="middle" font-weight="normal" fill="#161616" >20</text>
<line x1="594.5" y1="150.2" x2="594.5" y2="153.7" stroke="#231f20" stroke-width="1.1" />
<text x="594.5" y="165.3" font-size="8.7" text-anchor="middle" font-weight="normal" fill="#161616" >30</text>
<line x1="638.5" y1="150.2" x2="638.5" y2="153.7" stroke="#231f20" stroke-width="1.1" />
<text x="638.5" y="165.3" font-size="8.7" text-anchor="middle" font-weight="normal" fill="#161616" >40</text>
<text x="555.6" y="179.0" font-size="9.8" text-anchor="middle" font-weight="normal" fill="#161616" >CldU Tract Length (kb)</text>
<text transform="translate(436.9 86.4) rotate(-90)" font-size="9.9" text-anchor="middle" fill="#161616">% Frequency</text>
<line x1="561.4" y1="34.8" x2="574.6" y2="34.8" stroke="#333" stroke-width="1.0" />
<rect x="566.2" y="31.1" width="3.6" height="7.4" fill="#000" />
<text x="581.5" y="37.9" font-size="8.7" text-anchor="start" font-weight="normal" fill="#161616" >HAP1&#160; -S1</text>
<line x1="561.4" y1="51.1" x2="574.6" y2="51.1" stroke="#bbb" stroke-width="1.2" />
<rect x="565.7" y="47.4" width="4.6" height="7.4" fill="#a8a8a8" />
<text x="581.5" y="54.2" font-size="8.7" text-anchor="start" font-weight="normal" fill="#161616" >HAP1 +S1</text>
<line x1="561.4" y1="67.7" x2="574.6" y2="67.7" stroke="#f77d79" stroke-width="1.9" />
<rect x="564.5" y="64.0" width="7.0" height="7.4" fill="#f77d79" />
<text x="581.5" y="70.8" font-size="8.7" text-anchor="start" font-weight="normal" fill="#161616" >Exon1 -S1</text>
<line x1="561.4" y1="84.1" x2="574.6" y2="84.1" stroke="#1a8fff" stroke-width="1.9" />
<rect x="564.5" y="80.4" width="7.0" height="7.4" fill="#1a8fff" />
<text x="581.5" y="87.2" font-size="8.7" text-anchor="start" font-weight="normal" fill="#161616" >Exon1 +S1</text>
<text x="0.5" y="262.8" font-size="19.6" text-anchor="start" font-weight="bold" fill="#000" >B</text>
<text transform="translate(112.2 322.2) rotate(-45)" font-size="8.8" fill="#161616">HAP1</text>
<text transform="translate(144.0 322.2) rotate(-45)" font-size="8.8" fill="#161616">SLFN11 KO Exon 1</text>
<line x1="97.7" y1="325.8" x2="123.2" y2="325.8" stroke="#555" stroke-width="1.3" />
<line x1="132.2" y1="325.8" x2="157.9" y2="325.8" stroke="#555" stroke-width="1.3" />
<text x="77.4" y="338.0" font-size="8.8" text-anchor="end" font-weight="normal" fill="#161616" >siPrimpol-3:</text>
<text x="77.4" y="352.0" font-size="8.75" text-anchor="end" font-weight="normal" fill="#161616" >2 mM HU (4 hr):</text>
<text x="97.8" y="337.8" font-size="8.8" text-anchor="middle" font-weight="normal" fill="#161616" >-</text>
<text x="97.8" y="351.8" font-size="8.8" text-anchor="middle" font-weight="normal" fill="#161616" >+</text>
<text x="114.7" y="337.8" font-size="8.8" text-anchor="middle" font-weight="normal" fill="#161616" >+</text>
<text x="114.7" y="351.8" font-size="8.8" text-anchor="middle" font-weight="normal" fill="#161616" >+</text>
<text x="135.2" y="337.8" font-size="8.8" text-anchor="middle" font-weight="normal" fill="#161616" >-</text>
<text x="135.2" y="351.8" font-size="8.8" text-anchor="middle" font-weight="normal" fill="#161616" >+</text>
<text x="155.6" y="337.8" font-size="8.8" text-anchor="middle" font-weight="normal" fill="#161616" >+</text>
<text x="155.6" y="351.8" font-size="8.8" text-anchor="middle" font-weight="normal" fill="#161616" >+</text>
<rect x="81.4" y="359.4" width="90.4" height="32.6" fill="#f8f8f8" stroke="#1a1a1a" stroke-width="1.3"/>
<rect x="92.2" y="375.4" width="12.5" height="4.0" rx="2.0" fill="#4e4e4e" filter="url(#bl)"/>
<rect x="109.4" y="376.0" width="12.0" height="2.8" rx="1.4" fill="#cfcfcf" filter="url(#bl)"/>
<rect x="127.8" y="374.6" width="13.2" height="4.2" rx="2.1" fill="#2a2a2a" filter="url(#bl)"/>
<rect x="147.2" y="375.6" width="11.5" height="3.2" rx="1.6" fill="#b5b5b5" filter="url(#bl)"/>
<rect x="130.4" y="383.0" width="8.0" height="6.0" rx="3.0" fill="#f0f0f0" filter="url(#bl)"/>
<rect x="81.4" y="401.3" width="90.4" height="32.7" fill="#f8f8f8" stroke="#1a1a1a" stroke-width="1.3"/>
<rect x="93.2" y="413.9" width="13.2" height="5.4" rx="2.7" fill="#000" filter="url(#bl2)"/>
<rect x="110.6" y="414.5" width="13.0" height="4.2" rx="2.1" fill="#000" filter="url(#bl2)"/>
<rect x="96.0" y="429.5" width="9.0" height="2.6" rx="1.3" fill="#9a9a9a" filter="url(#bl)"/>
<rect x="112.9" y="429.5" width="9.0" height="2.6" rx="1.3" fill="#c6c6c6" filter="url(#bl)"/>
<rect x="96.0" y="424.5" width="9.0" height="4.0" rx="2.0" fill="#e6e6e6" filter="url(#bl)"/>
<rect x="112.9" y="424.5" width="9.0" height="4.0" rx="2.0" fill="#ececec" filter="url(#bl)"/>
<rect x="131.0" y="416.0" width="10.0" height="2.0" rx="1.0" fill="#ededed" filter="url(#bl)"/>
<rect x="149.0" y="416.5" width="10.0" height="2.0" rx="1.0" fill="#eaeaea" filter="url(#bl)"/>
<rect x="81.4" y="440.5" width="90.4" height="62.7" fill="#f8f8f8" stroke="#1a1a1a" stroke-width="1.3"/>
<rect x="95.0" y="450.0" width="9.0" height="40.0" rx="20.0" fill="#eeeeee" filter="url(#bl)"/>
<rect x="112.7" y="450.0" width="9.0" height="40.0" rx="20.0" fill="#eeeeee" filter="url(#bl)"/>
<rect x="131.7" y="450.0" width="9.0" height="40.0" rx="20.0" fill="#eeeeee" filter="url(#bl)"/>
<rect x="150.7" y="450.0" width="9.0" height="40.0" rx="20.0" fill="#eeeeee" filter="url(#bl)"/>
<rect x="96.0" y="465.6" width="9.0" height="2.8" rx="1.4" fill="#c4c4c4" filter="url(#bl)"/>
<rect x="112.5" y="465.6" width="10.0" height="2.8" rx="1.4" fill="#cccccc" filter="url(#bl)"/>
<rect x="131.2" y="464.8" width="12.5" height="4.4" rx="2.2" fill="#111" filter="url(#bl2)"/>
<rect x="150.0" y="464.8" width="12.0" height="4.6" rx="2.3" fill="#151515" filter="url(#bl2)"/>
<rect x="131.5" y="447.0" width="12.0" height="4.0" rx="2.0" fill="#e2e2e2" filter="url(#bl)"/>
<rect x="150.0" y="447.0" width="12.0" height="4.0" rx="2.0" fill="#e6e6e6" filter="url(#bl)"/>
<rect x="131.5" y="453.0" width="12.0" height="4.0" rx="2.0" fill="#e6e6e6" filter="url(#bl)"/>
<rect x="150.0" y="453.0" width="12.0" height="4.0" rx="2.0" fill="#e9e9e9" filter="url(#bl)"/>
<g filter="url(#bl2)">
<ellipse cx="100.1" cy="485.0" rx="9.6" ry="7.4" fill="#000"/>
<ellipse cx="117.6" cy="485.0" rx="9.6" ry="6.6" fill="#000"/>
<ellipse cx="136.3" cy="485.0" rx="9.8" ry="6.8" fill="#000"/>
<ellipse cx="155.4" cy="485.0" rx="9.4" ry="6.4" fill="#000"/>
<path d="M163 483 L167.5 485.3 L163 487 Z" fill="#000"/>
<rect x="98" y="479.5" width="60" height="11.5" fill="#000"/>
</g>
<rect x="81.4" y="512.9" width="90.4" height="31.2" fill="#f8f8f8" stroke="#1a1a1a" stroke-width="1.3"/>
<rect x="92.3" y="528.2" width="12.2" height="2.8" rx="1.4" fill="#2c2c2c" filter="url(#bl2)"/>
<rect x="108.7" y="528.2" width="14.0" height="2.8" rx="1.4" fill="#333" filter="url(#bl2)"/>
<rect x="128.1" y="528.2" width="13.5" height="2.8" rx="1.4" fill="#242424" filter="url(#bl2)"/>
<rect x="146.9" y="528.2" width="14.0" height="2.8" rx="1.4" fill="#444" filter="url(#bl2)"/>
<text x="7.4" y="379.2" font-size="8.9" text-anchor="start" font-weight="normal" fill="#161616" >Primpol</text>
<text x="7.4" y="420.1" font-size="8.9" text-anchor="start" font-weight="normal" fill="#161616" >SLFN11</text>
<text x="7.4" y="466.6" font-size="8.9" text-anchor="start" font-weight="normal" fill="#161616" >RPA32</text>
<text x="7.4" y="528.4" font-size="8.9" text-anchor="start" font-weight="normal" fill="#161616" >Tubulin</text>
<line x1="73.2" y1="378.5" x2="81.0" y2="378.5" stroke="#231f20" stroke-width="1.2" />
<text x="72.2" y="380.8" font-size="8.0" text-anchor="end" font-weight="normal" fill="#000" letter-spacing="-0.35" stroke="#000" stroke-width="0.12">62 kDa</text>
<line x1="73.2" y1="413.8" x2="81.0" y2="413.8" stroke="#231f20" stroke-width="1.2" />
<text x="72.2" y="416.1" font-size="8.0" text-anchor="end" font-weight="normal" fill="#000" letter-spacing="-0.35" stroke="#000" stroke-width="0.12">98 kDa</text>
<line x1="73.2" y1="453.9" x2="81.0" y2="453.9" stroke="#231f20" stroke-width="1.2" />
<text x="72.2" y="456.2" font-size="8.0" text-anchor="end" font-weight="normal" fill="#000" letter-spacing="-0.35" stroke="#000" stroke-width="0.12">49 kDa</text>
<line x1="73.2" y1="474.9" x2="81.0" y2="474.9" stroke="#231f20" stroke-width="1.2" />
<text x="72.2" y="477.2" font-size="8.0" text-anchor="end" font-weight="normal" fill="#000" letter-spacing="-0.35" stroke="#000" stroke-width="0.12">38 kDa</text>
<line x1="73.2" y1="531.7" x2="81.0" y2="531.7" stroke="#231f20" stroke-width="1.2" />
<text x="72.2" y="534.0" font-size="8.0" text-anchor="end" font-weight="normal" fill="#000" letter-spacing="-0.35" stroke="#000" stroke-width="0.12">49 kDa</text>
<line x1="172.5" y1="467.0" x2="180.0" y2="467.0" stroke="#231f20" stroke-width="1.2" />
<text x="182.0" y="470.0" font-size="8.7" text-anchor="start" font-weight="normal" fill="#161616" >Ub-RPA32</text>
<line x1="172.5" y1="485.0" x2="180.0" y2="485.0" stroke="#231f20" stroke-width="1.2" />
<text x="182.0" y="488.0" font-size="8.7" text-anchor="start" font-weight="normal" fill="#161616" >RPA32</text>
<text x="225.8" y="263.2" font-size="19.6" text-anchor="start" font-weight="bold" fill="#000" >C</text>
<rect x="316.4" y="281.8" width="22.7" height="5.2" fill="#39b54a" />
<rect x="339.1" y="281.8" width="82.4" height="5.2" fill="#231f20" />
<rect x="421.5" y="281.8" width="27.0" height="5.2" fill="#ef4123" />
<text x="320.9" y="275.9" font-size="7.3" text-anchor="start" font-weight="normal" fill="#161616" >IdU</text>
<text x="332.8" y="268.9" font-size="7.3" text-anchor="start" font-weight="normal" fill="#161616" >Wash</text>
<text x="363.0" y="275.9" font-size="7.3" text-anchor="start" font-weight="normal" fill="#161616" >2 mM HU</text>
<text x="414.5" y="268.9" font-size="7.3" text-anchor="start" font-weight="normal" fill="#161616" >Wash</text>
<text x="427.4" y="275.9" font-size="7.3" text-anchor="start" font-weight="normal" fill="#161616" >CldU</text>
<text x="316.4" y="294.4" font-size="7.3" text-anchor="start" font-weight="normal" fill="#161616" >20 min</text>
<text x="374.2" y="294.4" font-size="7.3" text-anchor="start" font-weight="normal" fill="#161616" >4 hr</text>
<text x="426.0" y="294.4" font-size="7.3" text-anchor="start" font-weight="normal" fill="#161616" >30 min</text>
<line x1="339.1" y1="274.5" x2="339.1" y2="279.3" stroke="#231f20" stroke-width="1.0" />
<path d="M337.1 277.7 L339.1 281.3 L341.1 277.7 L339.1 279.1Z" fill="#231f20" stroke="#231f20" stroke-width="0.5" stroke-linejoin="round"/>
<line x1="421.5" y1="274.5" x2="421.5" y2="279.3" stroke="#231f20" stroke-width="1.0" />
<path d="M419.5 277.7 L421.5 281.3 L423.5 277.7 L421.5 279.1Z" fill="#231f20" stroke="#231f20" stroke-width="0.5" stroke-linejoin="round"/>
<rect x="362.7" y="311.9" width="89.2" height="25.6" fill="#0e2004"/>
<rect x="362.7" y="336.3" width="89.2" height="1.2" fill="#071402"/>
<rect x="450.9" y="311.9" width="1" height="25.6" fill="#091803"/>
<rect x="364.9" y="318.2" width="1.2" height="1.2" fill="#163508"/>
<rect x="388.5" y="319.8" width="1.2" height="1.2" fill="#202e08"/>
<rect x="374.1" y="326.3" width="1.2" height="1.2" fill="#282408"/>
<rect x="371.0" y="326.2" width="1.2" height="1.2" fill="#202e08"/>
<rect x="401.6" y="324.5" width="1.2" height="1.2" fill="#282408"/>
<rect x="442.6" y="325.9" width="1.2" height="1.2" fill="#282408"/>
<rect x="384.7" y="314.9" width="1.2" height="1.2" fill="#282408"/>
<rect x="436.1" y="326.7" width="1.2" height="1.2" fill="#202e08"/>
<rect x="419.8" y="317.4" width="1.2" height="1.2" fill="#282408"/>
<rect x="403.4" y="325.3" width="1.2" height="1.2" fill="#173306"/>
<rect x="404.1" y="319.9" width="1.2" height="1.2" fill="#202e08"/>
<rect x="392.5" y="317.2" width="1.2" height="1.2" fill="#173306"/>
<rect x="447.3" y="321.9" width="1.2" height="1.2" fill="#282408"/>
<rect x="377.7" y="334.4" width="1.2" height="1.2" fill="#282408"/>
<rect x="411.7" y="324.0" width="1.2" height="1.2" fill="#282408"/>
<rect x="439.4" y="317.8" width="1.2" height="1.2" fill="#163508"/>
<rect x="430.3" y="316.5" width="1.2" height="1.2" fill="#163508"/>
<rect x="415.9" y="320.8" width="1.2" height="1.2" fill="#163508"/>
<rect x="408.3" y="331.8" width="1.2" height="1.2" fill="#282408"/>
<rect x="427.1" y="315.4" width="1.2" height="1.2" fill="#202e08"/>
<g filter="url(#fb)">
<rect x="378.5" y="323.9" width="1.7" height="2" fill="#2fb820"/>
<rect x="378.6" y="323.7" width="1.6" height="2" fill="#3fd22a"/>
<rect x="380.1" y="323.8" width="1.8" height="2" fill="#4ae035"/>
<rect x="381.7" y="323.4" width="1.7" height="2" fill="#4ae035"/>
<rect x="382.6" y="323.8" width="1.9" height="2" fill="#55e83c"/>
<rect x="384.0" y="323.5" width="1.7" height="2" fill="#2fb820"/>
<rect x="384.4" y="323.5" width="1.6" height="2" fill="#55e83c"/>
<rect x="385.4" y="323.6" width="2.1" height="2" fill="#55e83c"/>
<rect x="386.5" y="323.4" width="2.2" height="2" fill="#2fb820"/>
<rect x="387.8" y="323.4" width="1.6" height="2" fill="#55e83c"/>
<rect x="388.7" y="323.3" width="1.6" height="2" fill="#55e83c"/>
<rect x="389.0" y="323.5" width="1.9" height="2" fill="#55e83c"/>
<rect x="390.2" y="323.7" width="1.7" height="2" fill="#2fb820"/>
<rect x="390.6" y="323.6" width="1.3" height="2" fill="#3fd22a"/>
<rect x="392.9" y="323.6" width="1.9" height="2" fill="#4ae035"/>
<rect x="394.4" y="323.6" width="1.9" height="2" fill="#2fb820"/>
<rect x="395.0" y="323.4" width="1.7" height="2" fill="#2fb820"/>
<rect x="396.3" y="323.6" width="1.4" height="2" fill="#2fb820"/>
<rect x="396.9" y="323.9" width="2.2" height="2" fill="#55e83c"/>
<rect x="397.8" y="323.8" width="1.5" height="2" fill="#4ae035"/>
<rect x="400.5" y="323.7" width="2.0" height="2" fill="#3fd22a"/>
<rect x="401.7" y="323.7" width="1.3" height="2" fill="#2fb820"/>
<rect x="403.9" y="323.6" width="2.2" height="2" fill="#4ae035"/>
<rect x="405.2" y="323.4" width="1.5" height="2" fill="#3fd22a"/>
<rect x="407.5" y="323.6" width="1.7" height="2" fill="#3fd22a"/>
<rect x="408.1" y="323.6" width="1.4" height="2" fill="#4ae035"/>
<rect x="411.2" y="323.5" width="1.7" height="2" fill="#55e83c"/>
<rect x="411.2" y="323.5" width="2.1" height="2" fill="#3fd22a"/>
<rect x="376.4" y="335.3" width="1.3" height="2" fill="#4ae035"/>
<rect x="377.7" y="335.7" width="1.6" height="2" fill="#2fb820"/>
<rect x="379.7" y="335.8" width="1.5" height="2" fill="#55e83c"/>
<rect x="380.8" y="335.4" width="1.7" height="2" fill="#55e83c"/>
<rect x="381.5" y="335.3" width="1.5" height="2" fill="#55e83c"/>
<rect x="383.0" y="335.4" width="1.9" height="2" fill="#3fd22a"/>
<rect x="384.5" y="335.4" width="2.0" height="2" fill="#3fd22a"/>
<rect x="386.0" y="335.5" width="1.7" height="2" fill="#55e83c"/>
<rect x="387.2" y="335.2" width="2.0" height="2" fill="#2fb820"/>
<rect x="389.1" y="335.3" width="1.5" height="2" fill="#4ae035"/>
<rect x="390.2" y="335.7" width="1.5" height="2" fill="#2fb820"/>
<rect x="391.4" y="335.4" width="2.3" height="2" fill="#4ae035"/>
<rect x="392.7" y="335.3" width="2.2" height="2" fill="#4ae035"/>
<rect x="394.7" y="335.6" width="1.7" height="2" fill="#2fb820"/>
<rect x="395.7" y="335.5" width="1.4" height="2" fill="#3fd22a"/>
<rect x="398.7" y="335.7" width="1.3" height="2" fill="#4ae035"/>
<rect x="399.6" y="335.3" width="1.5" height="2" fill="#4ae035"/>
<rect x="401.0" y="335.3" width="1.9" height="2" fill="#2fb820"/>
<rect x="402.8" y="335.3" width="2.0" height="2" fill="#3fd22a"/>
<rect x="417.7" y="324.3" width="2.2" height="2.1" fill="#d83010"/>
<rect x="419.1" y="324.2" width="1.6" height="2.1" fill="#f03a18"/>
<rect x="419.7" y="324.5" width="2.2" height="2.1" fill="#f03a18"/>
<rect x="421.2" y="324.2" width="2.1" height="2.1" fill="#ff4a22"/>
<rect x="423.2" y="324.5" width="1.5" height="2.1" fill="#d83010"/>
<rect x="425.5" y="324.3" width="1.7" height="2.1" fill="#f03a18"/>
<rect x="427.1" y="324.7" width="1.9" height="2.1" fill="#f03a18"/>
<rect x="365.1" y="333.4" width="1.7" height="2.1" fill="#d83010"/>
<rect x="367.7" y="333.3" width="2.1" height="2.1" fill="#d83010"/>
<rect x="373.4" y="333.2" width="1.5" height="2.1" fill="#f03a18"/>
<circle cx="434.7" cy="329.2" r="1.1" fill="#41d12e"/>
<circle cx="435.0" cy="326.0" r="1.1" fill="#41d12e"/>
<circle cx="363.5" cy="318.0" r="1.1" fill="#f2401c"/>
<circle cx="420.0" cy="312.5" r="1.1" fill="#41d12e"/>
</g>
<rect x="367.0" y="327.7" width="19.4" height="1.8" fill="#fff" />
<rect x="362.7" y="343.0" width="89.2" height="22.5" fill="#0e2004"/>
<rect x="362.7" y="364.3" width="89.2" height="1.2" fill="#071402"/>
<rect x="450.9" y="343.0" width="1" height="22.5" fill="#091803"/>
<rect x="366.9" y="350.2" width="1.2" height="1.2" fill="#282408"/>
<rect x="428.3" y="345.7" width="1.2" height="1.2" fill="#173306"/>
<rect x="449.7" y="356.0" width="1.2" height="1.2" fill="#202e08"/>
<rect x="387.9" y="345.8" width="1.2" height="1.2" fill="#173306"/>
<rect x="401.8" y="350.6" width="1.2" height="1.2" fill="#173306"/>
<rect x="407.5" y="357.2" width="1.2" height="1.2" fill="#202e08"/>
<rect x="400.6" y="354.0" width="1.2" height="1.2" fill="#202e08"/>
<rect x="405.9" y="347.7" width="1.2" height="1.2" fill="#282408"/>
<rect x="378.7" y="347.2" width="1.2" height="1.2" fill="#202e08"/>
<rect x="410.6" y="348.9" width="1.2" height="1.2" fill="#163508"/>
<rect x="378.2" y="350.8" width="1.2" height="1.2" fill="#163508"/>
<rect x="381.1" y="350.1" width="1.2" height="1.2" fill="#202e08"/>
<rect x="422.9" y="353.5" width="1.2" height="1.2" fill="#173306"/>
<rect x="384.2" y="348.7" width="1.2" height="1.2" fill="#173306"/>
<rect x="375.2" y="356.5" width="1.2" height="1.2" fill="#282408"/>
<rect x="375.2" y="357.8" width="1.2" height="1.2" fill="#202e08"/>
<rect x="392.5" y="359.9" width="1.2" height="1.2" fill="#173306"/>
<rect x="429.3" y="347.3" width="1.2" height="1.2" fill="#202e08"/>
<g filter="url(#fb)">
<rect x="381.1" y="353.2" width="2.1" height="2" fill="#3fd22a"/>
<rect x="384.2" y="352.8" width="1.6" height="2" fill="#3fd22a"/>
<rect x="384.4" y="353.0" width="1.6" height="2" fill="#3fd22a"/>
<rect x="385.2" y="353.3" width="1.8" height="2" fill="#2fb820"/>
<rect x="387.1" y="352.8" width="1.8" height="2" fill="#55e83c"/>
<rect x="387.6" y="352.9" width="1.7" height="2" fill="#3fd22a"/>
<rect x="388.7" y="353.3" width="2.0" height="2" fill="#2fb820"/>
<rect x="392.1" y="353.0" width="2.2" height="2" fill="#4ae035"/>
<rect x="392.8" y="352.9" width="1.9" height="2" fill="#55e83c"/>
<rect x="393.8" y="352.9" width="1.7" height="2" fill="#2fb820"/>
<rect x="395.4" y="352.7" width="1.4" height="2" fill="#55e83c"/>
<rect x="396.4" y="353.0" width="1.8" height="2" fill="#4ae035"/>
<rect x="397.5" y="353.1" width="1.4" height="2" fill="#4ae035"/>
<rect x="397.6" y="353.3" width="1.4" height="2" fill="#3fd22a"/>
<rect x="399.2" y="352.8" width="1.7" height="2" fill="#3fd22a"/>
<rect x="400.1" y="353.2" width="1.7" height="2" fill="#2fb820"/>
<rect x="401.9" y="352.7" width="1.3" height="2" fill="#4ae035"/>
<rect x="403.3" y="353.0" width="1.6" height="2" fill="#4ae035"/>
<rect x="404.4" y="353.0" width="1.7" height="2" fill="#4ae035"/>
<rect x="405.9" y="353.1" width="2.1" height="2" fill="#3fd22a"/>
<rect x="406.6" y="353.1" width="1.9" height="2" fill="#55e83c"/>
<rect x="407.7" y="353.1" width="1.6" height="2" fill="#2fb820"/>
<rect x="408.3" y="353.2" width="1.5" height="2" fill="#55e83c"/>
<rect x="410.2" y="353.3" width="1.7" height="2" fill="#4ae035"/>
<rect x="411.1" y="352.8" width="1.5" height="2" fill="#4ae035"/>
<rect x="413.3" y="352.8" width="1.8" height="2" fill="#2fb820"/>
<rect x="414.1" y="353.0" width="1.8" height="2" fill="#3fd22a"/>
<rect x="415.0" y="353.0" width="2.2" height="2" fill="#3fd22a"/>
<rect x="366.5" y="345.6" width="2.2" height="2" fill="#3fd22a"/>
<rect x="369.6" y="345.4" width="2.3" height="2" fill="#4ae035"/>
<rect x="415.6" y="352.8" width="2.1" height="2.1" fill="#f03a18"/>
<rect x="417.2" y="353.3" width="1.8" height="2.1" fill="#f03a18"/>
<rect x="419.0" y="353.2" width="1.9" height="2.1" fill="#f03a18"/>
<rect x="420.0" y="353.2" width="1.5" height="2.1" fill="#d83010"/>
<rect x="421.3" y="353.1" width="1.3" height="2.1" fill="#ff4a22"/>
<rect x="421.7" y="353.1" width="2.2" height="2.1" fill="#d83010"/>
<rect x="423.2" y="352.9" width="1.7" height="2.1" fill="#ff4a22"/>
<rect x="425.8" y="352.9" width="1.5" height="2.1" fill="#ff4a22"/>
<rect x="426.0" y="353.0" width="2.1" height="2.1" fill="#ff4a22"/>
<rect x="427.2" y="352.8" width="1.9" height="2.1" fill="#ff4a22"/>
<rect x="429.1" y="353.2" width="1.9" height="2.1" fill="#ff4a22"/>
<rect x="429.8" y="353.2" width="2.2" height="2.1" fill="#f03a18"/>
<rect x="430.4" y="353.0" width="1.8" height="2.1" fill="#f03a18"/>
<circle cx="434.0" cy="350.0" r="1.1" fill="#41d12e"/>
<circle cx="437.0" cy="347.0" r="1.1" fill="#41d12e"/>
</g>
<rect x="362.7" y="369.1" width="89.2" height="23.0" fill="#0e2004"/>
<rect x="362.7" y="390.9" width="89.2" height="1.2" fill="#071402"/>
<rect x="450.9" y="369.1" width="1" height="23.0" fill="#091803"/>
<rect x="432.7" y="370.8" width="1.2" height="1.2" fill="#202e08"/>
<rect x="417.2" y="383.0" width="1.2" height="1.2" fill="#173306"/>
<rect x="436.4" y="389.5" width="1.2" height="1.2" fill="#173306"/>
<rect x="397.6" y="387.6" width="1.2" height="1.2" fill="#163508"/>
<rect x="394.8" y="380.7" width="1.2" height="1.2" fill="#282408"/>
<rect x="440.8" y="381.9" width="1.2" height="1.2" fill="#163508"/>
<rect x="381.9" y="386.5" width="1.2" height="1.2" fill="#173306"/>
<rect x="392.3" y="379.5" width="1.2" height="1.2" fill="#282408"/>
<rect x="390.8" y="376.8" width="1.2" height="1.2" fill="#173306"/>
<rect x="392.5" y="370.5" width="1.2" height="1.2" fill="#173306"/>
<rect x="439.2" y="382.3" width="1.2" height="1.2" fill="#202e08"/>
<rect x="426.4" y="373.0" width="1.2" height="1.2" fill="#173306"/>
<rect x="387.3" y="380.1" width="1.2" height="1.2" fill="#282408"/>
<rect x="394.5" y="381.6" width="1.2" height="1.2" fill="#202e08"/>
<rect x="449.2" y="370.8" width="1.2" height="1.2" fill="#163508"/>
<rect x="438.9" y="385.6" width="1.2" height="1.2" fill="#163508"/>
<rect x="395.0" y="375.7" width="1.2" height="1.2" fill="#202e08"/>
<rect x="438.9" y="388.9" width="1.2" height="1.2" fill="#163508"/>
<g filter="url(#fb)">
<rect x="369.4" y="379.7" width="1.8" height="2" fill="#4ae035"/>
<rect x="370.4" y="379.5" width="1.4" height="2" fill="#2fb820"/>
<rect x="371.7" y="379.8" width="1.8" height="2" fill="#4ae035"/>
<rect x="372.7" y="379.4" width="1.5" height="2" fill="#55e83c"/>
<rect x="373.3" y="379.8" width="2.2" height="2" fill="#3fd22a"/>
<rect x="374.0" y="379.5" width="1.9" height="2" fill="#2fb820"/>
<rect x="376.6" y="379.5" width="1.7" height="2" fill="#55e83c"/>
<rect x="377.0" y="379.6" width="2.2" height="2" fill="#3fd22a"/>
<rect x="378.4" y="379.4" width="2.2" height="2" fill="#3fd22a"/>
<rect x="379.3" y="379.4" width="1.3" height="2" fill="#3fd22a"/>
<rect x="379.9" y="379.7" width="2.2" height="2" fill="#3fd22a"/>
<rect x="380.6" y="379.9" width="1.9" height="2" fill="#3fd22a"/>
<rect x="381.4" y="379.6" width="2.0" height="2" fill="#3fd22a"/>
<rect x="382.5" y="379.8" width="1.9" height="2" fill="#3fd22a"/>
<rect x="383.5" y="379.7" width="1.9" height="2" fill="#55e83c"/>
<rect x="384.8" y="379.4" width="2.2" height="2" fill="#3fd22a"/>
<rect x="385.2" y="379.8" width="2.3" height="2" fill="#55e83c"/>
<rect x="386.4" y="379.3" width="2.2" height="2" fill="#2fb820"/>
<rect x="387.1" y="379.7" width="1.6" height="2" fill="#3fd22a"/>
<rect x="388.0" y="379.6" width="2.1" height="2" fill="#2fb820"/>
<rect x="389.7" y="379.6" width="1.9" height="2" fill="#4ae035"/>
<rect x="390.5" y="379.5" width="2.0" height="2" fill="#2fb820"/>
<rect x="391.6" y="379.3" width="1.9" height="2" fill="#55e83c"/>
<rect x="392.3" y="379.6" width="1.6" height="2" fill="#2fb820"/>
<rect x="392.7" y="379.7" width="2.1" height="2" fill="#2fb820"/>
<rect x="393.8" y="379.5" width="2.3" height="2" fill="#3fd22a"/>
<rect x="396.1" y="379.8" width="1.6" height="2" fill="#2fb820"/>
<rect x="397.2" y="379.8" width="2.2" height="2" fill="#4ae035"/>
<rect x="398.0" y="379.7" width="1.7" height="2" fill="#55e83c"/>
<rect x="398.6" y="379.8" width="1.7" height="2" fill="#4ae035"/>
<rect x="399.6" y="379.4" width="2.0" height="2" fill="#3fd22a"/>
<rect x="401.1" y="379.7" width="1.7" height="2" fill="#4ae035"/>
<rect x="401.8" y="379.9" width="2.2" height="2" fill="#4ae035"/>
<rect x="403.8" y="379.5" width="1.6" height="2" fill="#55e83c"/>
<rect x="404.7" y="379.9" width="1.5" height="2" fill="#4ae035"/>
<rect x="405.5" y="379.8" width="2.3" height="2" fill="#4ae035"/>
<rect x="406.7" y="379.5" width="1.8" height="2" fill="#4ae035"/>
<rect x="407.0" y="379.7" width="1.8" height="2" fill="#3fd22a"/>
<rect x="408.7" y="379.8" width="1.7" height="2" fill="#55e83c"/>
<rect x="408.9" y="379.9" width="1.6" height="2" fill="#3fd22a"/>
<rect x="416.3" y="379.5" width="2.1" height="2.1" fill="#ff4a22"/>
<rect x="418.2" y="379.7" width="2.2" height="2.1" fill="#f03a18"/>
<rect x="419.4" y="379.7" width="1.3" height="2.1" fill="#f03a18"/>
<rect x="420.3" y="379.6" width="1.4" height="2.1" fill="#f03a18"/>
<rect x="420.8" y="379.3" width="1.4" height="2.1" fill="#ff4a22"/>
<rect x="422.7" y="379.3" width="1.5" height="2.1" fill="#d83010"/>
<rect x="422.8" y="379.6" width="1.4" height="2.1" fill="#ff4a22"/>
<rect x="424.5" y="379.3" width="2.3" height="2.1" fill="#f03a18"/>
<rect x="425.3" y="379.4" width="1.6" height="2.1" fill="#f03a18"/>
<rect x="426.5" y="379.3" width="2.1" height="2.1" fill="#ff4a22"/>
<rect x="426.8" y="379.3" width="1.8" height="2.1" fill="#ff4a22"/>
<rect x="428.0" y="379.9" width="2.2" height="2.1" fill="#d83010"/>
<rect x="428.7" y="379.6" width="1.7" height="2.1" fill="#f03a18"/>
<rect x="429.8" y="379.5" width="1.4" height="2.1" fill="#d83010"/>
<rect x="430.4" y="379.9" width="1.6" height="2.1" fill="#d83010"/>
<rect x="432.1" y="379.8" width="2.0" height="2.1" fill="#f03a18"/>
<rect x="433.1" y="379.8" width="1.3" height="2.1" fill="#d83010"/>
<rect x="433.8" y="379.6" width="2.0" height="2.1" fill="#ff4a22"/>
<rect x="435.9" y="379.6" width="1.9" height="2.1" fill="#ff4a22"/>
<rect x="436.4" y="379.7" width="1.7" height="2.1" fill="#d83010"/>
<rect x="437.2" y="379.5" width="2.0" height="2.1" fill="#ff4a22"/>
<rect x="438.1" y="379.7" width="2.2" height="2.1" fill="#ff4a22"/>
<rect x="439.3" y="379.8" width="1.6" height="2.1" fill="#d83010"/>
<rect x="440.5" y="379.4" width="2.2" height="2.1" fill="#d83010"/>
<rect x="441.3" y="379.4" width="1.7" height="2.1" fill="#d83010"/>
<rect x="442.1" y="379.6" width="1.9" height="2.1" fill="#d83010"/>
<rect x="364.3" y="388.2" width="1.4" height="2.1" fill="#f03a18"/>
<rect x="365.7" y="387.9" width="2.0" height="2.1" fill="#d83010"/>
<rect x="366.6" y="387.8" width="1.7" height="2.1" fill="#ff4a22"/>
<rect x="367.8" y="388.0" width="2.1" height="2.1" fill="#d83010"/>
<rect x="368.4" y="387.9" width="1.8" height="2.1" fill="#f03a18"/>
<rect x="369.9" y="388.2" width="1.6" height="2.1" fill="#d83010"/>
<rect x="370.5" y="387.7" width="1.5" height="2.1" fill="#d83010"/>
<rect x="371.9" y="387.9" width="1.6" height="2.1" fill="#ff4a22"/>
<rect x="372.5" y="388.2" width="1.5" height="2.1" fill="#ff4a22"/>
<rect x="374.5" y="388.2" width="2.2" height="2.1" fill="#d83010"/>
<rect x="375.0" y="388.1" width="1.6" height="2.1" fill="#ff4a22"/>
<rect x="376.1" y="387.9" width="1.5" height="2.1" fill="#d83010"/>
<rect x="376.8" y="388.3" width="2.2" height="2.1" fill="#d83010"/>
<rect x="378.1" y="387.9" width="1.4" height="2.1" fill="#ff4a22"/>
<rect x="379.2" y="388.0" width="2.2" height="2.1" fill="#f03a18"/>
<rect x="380.0" y="388.3" width="2.0" height="2.1" fill="#ff4a22"/>
<rect x="381.4" y="388.2" width="1.7" height="2.1" fill="#ff4a22"/>
<rect x="382.1" y="387.7" width="1.5" height="2.1" fill="#f03a18"/>
<rect x="384.8" y="388.2" width="2.1" height="2.1" fill="#f03a18"/>
<rect x="385.3" y="388.0" width="1.3" height="2.1" fill="#ff4a22"/>
<circle cx="407.0" cy="386.0" r="1.1" fill="#f2401c"/>
</g>
<rect x="362.7" y="394.7" width="89.2" height="24.0" fill="#0e2004"/>
<rect x="362.7" y="417.5" width="89.2" height="1.2" fill="#071402"/>
<rect x="450.9" y="394.7" width="1" height="24.0" fill="#091803"/>
<rect x="371.3" y="411.5" width="1.2" height="1.2" fill="#173306"/>
<rect x="368.4" y="410.0" width="1.2" height="1.2" fill="#282408"/>
<rect x="405.3" y="396.9" width="1.2" height="1.2" fill="#173306"/>
<rect x="436.4" y="398.6" width="1.2" height="1.2" fill="#173306"/>
<rect x="434.1" y="414.0" width="1.2" height="1.2" fill="#202e08"/>
<rect x="391.3" y="399.7" width="1.2" height="1.2" fill="#163508"/>
<rect x="379.7" y="407.0" width="1.2" height="1.2" fill="#282408"/>
<rect x="371.2" y="403.8" width="1.2" height="1.2" fill="#282408"/>
<rect x="411.6" y="406.4" width="1.2" height="1.2" fill="#173306"/>
<rect x="422.4" y="402.1" width="1.2" height="1.2" fill="#202e08"/>
<rect x="438.4" y="412.5" width="1.2" height="1.2" fill="#282408"/>
<rect x="390.0" y="398.5" width="1.2" height="1.2" fill="#202e08"/>
<rect x="410.0" y="403.5" width="1.2" height="1.2" fill="#173306"/>
<rect x="420.3" y="410.6" width="1.2" height="1.2" fill="#202e08"/>
<rect x="395.2" y="412.5" width="1.2" height="1.2" fill="#202e08"/>
<rect x="403.0" y="410.5" width="1.2" height="1.2" fill="#163508"/>
<rect x="426.6" y="395.9" width="1.2" height="1.2" fill="#163508"/>
<rect x="398.9" y="407.6" width="1.2" height="1.2" fill="#282408"/>
<rect x="366.7" y="400.3" width="1.2" height="1.2" fill="#173306"/>
<g filter="url(#fb)">
<rect x="370.8" y="403.8" width="1.9" height="2" fill="#55e83c"/>
<rect x="371.8" y="403.4" width="1.5" height="2" fill="#4ae035"/>
<rect x="372.8" y="403.3" width="2.2" height="2" fill="#3fd22a"/>
<rect x="374.1" y="403.3" width="2.0" height="2" fill="#4ae035"/>
<rect x="374.7" y="403.7" width="1.6" height="2" fill="#4ae035"/>
<rect x="376.9" y="403.6" width="1.8" height="2" fill="#4ae035"/>
<rect x="377.8" y="403.5" width="2.0" height="2" fill="#2fb820"/>
<rect x="378.7" y="403.6" width="2.2" height="2" fill="#4ae035"/>
<rect x="379.0" y="403.5" width="1.5" height="2" fill="#2fb820"/>
<rect x="380.6" y="403.5" width="1.6" height="2" fill="#4ae035"/>
<rect x="381.0" y="403.9" width="1.7" height="2" fill="#3fd22a"/>
<rect x="383.0" y="403.7" width="1.5" height="2" fill="#4ae035"/>
<rect x="384.4" y="403.7" width="1.4" height="2" fill="#2fb820"/>
<rect x="384.7" y="403.9" width="2.2" height="2" fill="#3fd22a"/>
<rect x="385.8" y="403.8" width="1.8" height="2" fill="#3fd22a"/>
<rect x="386.6" y="403.5" width="1.9" height="2" fill="#3fd22a"/>
<rect x="387.6" y="403.8" width="2.1" height="2" fill="#4ae035"/>
<rect x="388.9" y="403.6" width="1.4" height="2" fill="#3fd22a"/>
<rect x="389.6" y="403.7" width="1.4" height="2" fill="#2fb820"/>
<rect x="390.5" y="403.5" width="1.7" height="2" fill="#3fd22a"/>
<rect x="391.9" y="403.3" width="1.9" height="2" fill="#3fd22a"/>
<rect x="393.2" y="403.3" width="1.3" height="2" fill="#3fd22a"/>
<rect x="394.4" y="403.5" width="2.1" height="2" fill="#3fd22a"/>
<rect x="395.3" y="403.4" width="1.5" height="2" fill="#3fd22a"/>
<rect x="396.2" y="403.8" width="1.8" height="2" fill="#4ae035"/>
<rect x="398.9" y="403.5" width="1.5" height="2" fill="#3fd22a"/>
<rect x="400.1" y="403.4" width="1.7" height="2" fill="#4ae035"/>
<rect x="401.5" y="403.7" width="1.8" height="2" fill="#4ae035"/>
<rect x="403.3" y="403.8" width="1.9" height="2" fill="#4ae035"/>
<rect x="405.1" y="403.6" width="1.9" height="2" fill="#3fd22a"/>
<rect x="405.5" y="403.4" width="1.9" height="2" fill="#4ae035"/>
<rect x="406.4" y="403.6" width="2.1" height="2" fill="#4ae035"/>
<rect x="407.1" y="403.4" width="1.5" height="2" fill="#4ae035"/>
<rect x="408.8" y="403.8" width="1.8" height="2" fill="#4ae035"/>
<rect x="409.0" y="403.5" width="1.7" height="2" fill="#3fd22a"/>
<rect x="412.6" y="403.4" width="2.2" height="2" fill="#2fb820"/>
<rect x="416.3" y="404.9" width="1.8" height="2.1" fill="#ff4a22"/>
<rect x="418.2" y="405.3" width="1.5" height="2.1" fill="#d83010"/>
<rect x="418.4" y="405.1" width="2.0" height="2.1" fill="#ff4a22"/>
<rect x="420.0" y="405.2" width="2.1" height="2.1" fill="#ff4a22"/>
<rect x="420.5" y="405.5" width="2.2" height="2.1" fill="#d83010"/>
<rect x="421.9" y="405.3" width="1.5" height="2.1" fill="#ff4a22"/>
<rect x="423.3" y="405.4" width="1.6" height="2.1" fill="#d83010"/>
<rect x="424.0" y="405.0" width="2.3" height="2.1" fill="#ff4a22"/>
<rect x="425.3" y="405.0" width="1.9" height="2.1" fill="#d83010"/>
<rect x="425.8" y="405.4" width="2.0" height="2.1" fill="#d83010"/>
<rect x="426.6" y="405.1" width="1.9" height="2.1" fill="#ff4a22"/>
<rect x="428.4" y="405.0" width="2.0" height="2.1" fill="#ff4a22"/>
<rect x="429.3" y="405.2" width="1.6" height="2.1" fill="#ff4a22"/>
<rect x="430.8" y="405.2" width="1.9" height="2.1" fill="#ff4a22"/>
<circle cx="367.0" cy="397.0" r="1.1" fill="#f2401c"/>
<circle cx="414.0" cy="414.0" r="1.1" fill="#41d12e"/>
<circle cx="368.0" cy="410.0" r="1.1" fill="#41d12e"/>
</g>
<text x="358.6" y="326.1" font-size="8.75" text-anchor="end" font-weight="normal" fill="#161616" >HAP1 siCtrl</text>
<text x="358.6" y="354.0" font-size="8.75" text-anchor="end" font-weight="normal" fill="#161616" >HAP1 siPrimpol-3</text>
<text x="358.6" y="382.5" font-size="8.75" text-anchor="end" font-weight="normal" fill="#161616" >SLFN11 KO Exon 1 siCtrl</text>
<text x="358.6" y="410.1" font-size="8.75" text-anchor="end" font-weight="normal" fill="#161616" >SLFN11 KO Exon 1 siPrimpol-3</text>
<line x1="512.8" y1="299.4" x2="512.8" y2="393.7" stroke="#231f20" stroke-width="1" />
<line x1="512.8" y1="393.7" x2="654.3" y2="393.7" stroke="#231f20" stroke-width="1" />
<line x1="509.8" y1="393.7" x2="512.8" y2="393.7" stroke="#231f20" stroke-width="1" />
<text x="508.6" y="396.2" font-size="7.0" text-anchor="end" font-weight="normal" fill="#161616" >0</text>
<line x1="509.8" y1="362.3" x2="512.8" y2="362.3" stroke="#231f20" stroke-width="1" />
<text x="508.6" y="364.8" font-size="7.0" text-anchor="end" font-weight="normal" fill="#161616" >1</text>
<line x1="509.8" y1="330.8" x2="512.8" y2="330.8" stroke="#231f20" stroke-width="1" />
<text x="508.6" y="333.3" font-size="7.0" text-anchor="end" font-weight="normal" fill="#161616" >2</text>
<line x1="509.8" y1="299.4" x2="512.8" y2="299.4" stroke="#231f20" stroke-width="1" />
<text x="508.6" y="301.9" font-size="7.0" text-anchor="end" font-weight="normal" fill="#161616" >3</text>
<line x1="534.2" y1="393.7" x2="534.2" y2="396.7" stroke="#231f20" stroke-width="1" />
<path d="M529.0 377.6h1M537.3 376.3h1M537.8 377.0h1M527.3 379.0h1M532.3 383.1h1M541.0 381.5h1M536.6 390.6h1M535.7 367.0h1M532.6 377.3h1M534.2 371.1h1M532.0 387.5h1M540.3 378.0h1M538.4 381.6h1M528.3 377.9h1M538.1 385.5h1M532.8 385.6h1M540.9 377.4h1M530.5 385.1h1M528.6 383.3h1M537.5 379.0h1M542.0 379.2h1M527.5 377.3h1M526.6 377.2h1M535.1 388.2h1M529.1 383.5h1M533.2 377.3h1M531.0 374.8h1M536.8 388.6h1M536.7 390.3h1M536.3 388.5h1M539.1 376.4h1M527.0 382.8h1M532.4 371.0h1M541.2 381.1h1M529.7 378.5h1M527.3 379.2h1M531.9 389.1h1M526.0 385.0h1M543.5 382.5h1M538.2 390.0h1M533.2 372.8h1M530.0 382.6h1M537.1 381.6h1M537.7 389.9h1M532.7 375.7h1M538.7 374.9h1M538.4 381.9h1M537.8 376.1h1M535.7 386.7h1M534.4 382.2h1M536.3 382.2h1M540.4 377.2h1M530.8 384.7h1M532.9 373.6h1M535.2 386.8h1M538.6 388.6h1M529.8 374.3h1M525.7 378.8h1M534.4 390.2h1M526.6 381.4h1M536.9 370.6h1M528.7 380.5h1M533.4 379.6h1M539.3 383.5h1M533.3 385.2h1M534.3 378.4h1M542.6 384.9h1M536.0 382.0h1M535.6 386.5h1M526.4 385.6h1M534.7 375.8h1M533.6 383.8h1M534.1 368.9h1M530.1 381.2h1M542.9 382.2h1M542.1 378.2h1M534.6 376.1h1M529.5 385.0h1M535.2 378.4h1M540.6 381.8h1M531.9 389.2h1M538.5 390.1h1M535.7 381.3h1M535.8 372.3h1M531.0 374.9h1M527.8 380.6h1M540.1 383.7h1M529.7 380.5h1M532.9 374.3h1M542.6 384.2h1M532.1 390.1h1M526.0 381.1h1M527.9 377.8h1M532.2 384.5h1M542.1 378.5h1M533.0 387.3h1M536.2 375.3h1M541.4 379.7h1M526.2 378.9h1M531.8 384.0h1M534.8 381.1h1M537.2 383.6h1M529.6 384.1h1M536.0 375.5h1M535.3 386.8h1M533.5 389.3h1M537.8 372.4h1M541.5 383.5h1M535.8 387.2h1M530.5 375.2h1M536.4 383.4h1M531.9 370.3h1M530.8 389.3h1M539.3 380.5h1M528.0 376.7h1M541.6 384.2h1M525.1 383.9h1M538.4 386.5h1M538.9 385.9h1M536.2 372.9h1M539.2 384.4h1M528.2 381.3h1M537.1 374.9h1M540.0 385.2h1M531.5 387.4h1M539.9 381.8h1M528.3 375.5h1M535.9 372.0h1M536.0 377.5h1M524.7 380.5h1M532.8 389.6h1M532.6 383.6h1M540.0 378.5h1M536.4 386.4h1M537.9 376.9h1M534.9 379.2h1M535.3 382.9h1M536.0 387.2h1M535.3 377.7h1M532.7 390.8h1M531.3 382.6h1M526.3 381.5h1M536.4 390.1h1M537.9 383.5h1M532.7 384.3h1M529.0 374.7h1M536.7 388.4h1M535.7 369.9h1M531.2 380.0h1M541.1 383.5h1M533.6 366.2h1M535.7 360.4h1M534.1 360.3h1M532.5 363.4h1M533.6 357.8h1M531.3 377.5h1" stroke="#aaaaaa" stroke-width="1.15" fill="none"/>
<line x1="566.9" y1="393.7" x2="566.9" y2="396.7" stroke="#231f20" stroke-width="1" />
<path d="M568.6 365.3h1M560.3 388.5h1M567.5 386.5h1M563.7 382.1h1M567.6 386.3h1M564.4 376.8h1M570.3 390.6h1M561.5 390.6h1M572.1 383.5h1M565.0 368.1h1M564.9 388.9h1M558.6 382.6h1M562.7 373.0h1M563.6 368.1h1M573.3 384.8h1M565.4 379.6h1M565.0 372.2h1M561.1 373.6h1M559.5 382.8h1M566.1 381.5h1M563.1 373.6h1M562.3 390.9h1M570.1 380.2h1M562.6 385.9h1M572.5 388.5h1M572.9 388.2h1M567.2 386.0h1M570.5 373.3h1M568.7 388.3h1M569.7 378.2h1M562.2 376.2h1M572.0 380.9h1M571.2 390.2h1M568.7 369.3h1M566.4 369.0h1M562.3 372.6h1M573.0 373.8h1M569.0 383.8h1M568.4 389.0h1M562.3 388.2h1M571.2 370.6h1M563.7 387.4h1M565.4 388.5h1M564.3 386.0h1M574.5 376.0h1M562.3 372.0h1M569.2 367.0h1M568.7 388.9h1M568.4 389.3h1M569.8 378.3h1M570.5 374.9h1M561.3 375.4h1M561.6 389.4h1M561.2 373.5h1M565.1 376.4h1M562.6 391.2h1M569.4 390.5h1M567.5 386.0h1M558.4 381.9h1M562.2 390.4h1M567.9 377.1h1M571.1 383.8h1M568.8 373.0h1M567.1 381.1h1M572.2 388.2h1M571.2 371.2h1M565.9 380.8h1M574.6 383.3h1M564.1 390.0h1M565.0 384.4h1M570.7 382.9h1M560.4 380.0h1M573.0 389.2h1M574.3 379.5h1M569.9 369.4h1M566.2 384.4h1M563.5 378.7h1M561.2 383.3h1M565.1 375.6h1M570.9 374.2h1M560.3 385.9h1M561.8 385.4h1M565.2 390.0h1M563.6 382.2h1M569.3 379.1h1M573.6 383.1h1M562.7 370.9h1M558.9 379.2h1M570.5 373.2h1M569.6 376.4h1M564.9 390.9h1M564.0 389.5h1M561.1 389.1h1M566.5 383.8h1M572.1 387.1h1M559.7 386.4h1M562.7 385.6h1M561.8 389.3h1M568.6 379.9h1M559.4 376.6h1M564.7 390.5h1M562.3 381.7h1M574.9 384.2h1M572.5 389.1h1M565.4 371.2h1M567.7 382.2h1M562.6 373.6h1M564.7 376.6h1M571.6 382.5h1M564.5 383.9h1M560.3 380.1h1M567.9 366.2h1M573.8 378.0h1M575.1 381.4h1M560.3 382.1h1M570.8 375.0h1M575.2 383.5h1M561.0 373.0h1M569.2 386.9h1M574.1 384.1h1M572.1 380.1h1M573.6 378.4h1M564.4 370.6h1M574.3 378.2h1M562.2 380.6h1M558.7 386.1h1M561.4 388.3h1M566.1 367.4h1M564.6 385.6h1M562.7 383.4h1M566.4 380.5h1M566.8 390.9h1M559.5 378.6h1M568.0 380.8h1M566.7 382.5h1M565.9 390.8h1M566.8 370.1h1M572.9 388.0h1M571.3 371.7h1M565.5 377.7h1M558.3 382.6h1M561.9 375.8h1M564.1 372.7h1M566.3 371.6h1M561.7 380.1h1M563.7 382.6h1M558.7 384.3h1M567.1 378.2h1M566.7 372.0h1M565.2 366.2h1M567.4 358.5h1M569.5 364.8h1M568.7 359.6h1M566.4 355.1h1M565.1 355.2h1M566.3 369.9h1" stroke="#aaaaaa" stroke-width="1.15" fill="none"/>
<line x1="600.0" y1="393.7" x2="600.0" y2="396.7" stroke="#231f20" stroke-width="1" />
<path d="M602.8 350.3h1M597.6 360.8h1M599.9 373.6h1M597.3 366.3h1M608.0 353.9h1M602.6 357.3h1M603.6 382.4h1M592.5 360.1h1M600.2 364.4h1M606.8 370.7h1M602.2 359.8h1M602.0 376.8h1M599.4 357.5h1M599.1 360.1h1M596.7 364.7h1M600.8 369.3h1M597.1 369.0h1M603.8 375.2h1M596.4 366.3h1M604.0 349.4h1M602.6 376.5h1M602.4 376.8h1M603.6 349.7h1M598.3 373.3h1M592.5 366.7h1M602.5 368.1h1M596.9 374.8h1M600.7 377.2h1M594.4 368.5h1M595.5 370.3h1M601.6 371.9h1M604.8 356.4h1M597.6 357.5h1M606.1 371.2h1M600.8 335.4h1M593.5 359.6h1M593.0 373.1h1M599.4 376.1h1M603.3 366.3h1M605.1 367.4h1M594.4 378.3h1M607.8 360.8h1M601.1 379.9h1M598.4 358.3h1M601.0 371.4h1M597.8 330.7h1M605.6 368.6h1M605.8 355.3h1M591.7 364.4h1M595.0 361.6h1M593.9 358.5h1M593.5 364.6h1M606.6 372.6h1M604.7 354.3h1M595.7 354.3h1M590.6 361.2h1M593.7 352.6h1M594.5 376.8h1M594.4 368.9h1M599.5 371.5h1M591.8 359.2h1M597.2 369.3h1M596.7 373.5h1M604.9 363.9h1M607.5 363.8h1M597.3 372.9h1M603.1 340.7h1M595.5 368.4h1M595.6 358.2h1M591.3 364.3h1M594.1 377.0h1M608.1 355.3h1M595.5 378.3h1M606.1 372.4h1M596.6 364.1h1M600.0 335.5h1M594.7 352.1h1M600.9 343.6h1M607.7 373.8h1M605.1 372.3h1M603.9 374.2h1M606.4 368.7h1M598.5 366.6h1M597.6 347.8h1M590.7 367.3h1M597.2 352.1h1M592.0 358.2h1M599.7 380.3h1M592.8 372.5h1M596.9 343.7h1M605.7 359.5h1M599.2 353.9h1M599.8 341.5h1M605.1 354.2h1M602.4 363.6h1M605.4 372.6h1M599.5 371.8h1M598.8 368.8h1M592.4 353.1h1M604.7 346.8h1M597.6 342.9h1M606.3 368.9h1M599.3 354.3h1M604.7 358.4h1M600.0 350.8h1M600.2 382.4h1M596.7 362.1h1M591.5 367.9h1M594.6 365.5h1M591.8 371.6h1M600.3 362.8h1M594.3 362.3h1M603.8 371.5h1M599.1 358.5h1M595.1 373.2h1M595.8 376.9h1M607.5 374.2h1M608.7 370.9h1M605.5 376.2h1M592.7 365.6h1M592.0 369.8h1M599.4 373.6h1M597.8 376.5h1M603.9 367.5h1M602.5 376.3h1M603.9 359.4h1M606.0 365.9h1M598.4 352.8h1M600.2 342.1h1M597.9 380.4h1M604.7 371.8h1M597.0 373.2h1M596.3 356.4h1M596.7 367.8h1M595.2 357.3h1M595.8 377.3h1M601.3 345.4h1M595.1 359.3h1M590.6 363.3h1M597.0 354.6h1M604.5 353.3h1M603.9 370.8h1M605.8 373.9h1M601.8 345.2h1M599.9 332.8h1M596.7 371.2h1M593.3 373.6h1M603.2 363.5h1M602.4 360.0h1M598.9 370.6h1M598.3 318.1h1M601.9 338.1h1M600.1 344.7h1M599.1 357.3h1M601.6 328.5h1M604.6 346.2h1" stroke="#f59a96" stroke-width="1.15" fill="none"/>
<line x1="632.7" y1="393.7" x2="632.7" y2="396.7" stroke="#231f20" stroke-width="1" />
<path d="M625.6 388.0h1M641.1 369.3h1M628.9 389.2h1M627.4 382.6h1M633.5 380.6h1M639.6 385.7h1M633.8 349.9h1M639.9 372.8h1M633.4 339.9h1M633.6 361.3h1M632.3 358.0h1M633.3 354.4h1M626.4 361.0h1M626.1 383.0h1M637.7 356.1h1M626.5 372.1h1M630.7 355.4h1M633.0 375.7h1M637.0 367.3h1M626.7 387.2h1M637.7 384.5h1M634.3 364.7h1M625.3 366.1h1M631.0 360.5h1M640.7 382.3h1M636.0 388.8h1M631.3 331.0h1M635.4 374.2h1M625.4 384.0h1M631.4 386.8h1M629.5 381.7h1M640.7 385.5h1M633.0 372.4h1M639.8 387.5h1M632.6 384.2h1M637.7 374.6h1M625.6 388.1h1M637.7 361.3h1M634.6 381.5h1M630.7 386.0h1M638.6 367.8h1M639.4 384.7h1M626.7 382.8h1M623.6 380.6h1M633.3 328.0h1M638.9 385.5h1M625.4 381.0h1M633.8 386.3h1M623.9 378.3h1M624.1 371.5h1M632.8 371.5h1M638.4 388.7h1M638.8 383.6h1M637.0 374.5h1M636.9 374.9h1M628.7 388.9h1M632.1 365.1h1M626.8 384.0h1M627.5 368.6h1M627.1 385.8h1M631.5 378.5h1M623.9 381.3h1M627.8 389.6h1M636.2 380.6h1M634.4 386.0h1M629.0 389.3h1M627.9 384.3h1M633.8 353.8h1M624.9 367.4h1M636.8 387.5h1M638.4 381.0h1M640.1 381.8h1M626.4 370.0h1M638.2 379.3h1M633.3 386.3h1M630.3 354.5h1M638.9 379.3h1M627.3 376.2h1M628.2 361.9h1M639.5 368.6h1M640.4 385.6h1M633.8 341.6h1M625.6 368.7h1M632.0 381.6h1M634.3 385.0h1M627.9 384.6h1M638.6 383.5h1M632.4 322.5h1M632.8 353.6h1M632.5 378.0h1M622.9 378.6h1M637.8 389.2h1M637.6 390.0h1M639.1 385.9h1M633.9 372.1h1M631.4 387.8h1M631.9 337.6h1M626.4 370.8h1M627.0 376.3h1M633.6 373.3h1M631.1 382.8h1M635.9 362.9h1M641.4 383.4h1M628.2 366.0h1M639.5 381.6h1M630.0 370.5h1M631.5 382.3h1M630.0 388.3h1M633.3 337.1h1M631.7 370.1h1M625.6 374.6h1M634.4 369.2h1M625.2 376.0h1M630.0 389.9h1M632.3 339.0h1M638.6 383.9h1M636.2 390.3h1M634.3 384.0h1M632.2 373.1h1M629.7 389.6h1M632.8 319.5h1M632.2 382.1h1M632.8 386.9h1M632.7 377.1h1M627.5 379.4h1M630.7 389.8h1M630.5 380.4h1M625.9 386.1h1M624.7 373.9h1M637.4 377.2h1M631.6 349.6h1M635.7 388.2h1M638.4 366.1h1M635.6 377.7h1M632.1 385.8h1M638.2 385.2h1M632.9 341.7h1M623.9 371.3h1M637.6 383.8h1M632.3 384.5h1M632.8 386.2h1M636.9 377.8h1M635.3 387.9h1M639.0 388.8h1M634.7 385.2h1M626.5 382.8h1M635.1 386.8h1M634.5 351.2h1M623.2 379.9h1M635.7 386.0h1M633.2 313.1h1M633.4 334.6h1M632.3 307.4h1M632.0 314.4h1M634.1 370.8h1M631.2 345.0h1" stroke="#f59a96" stroke-width="1.15" fill="none"/>
<line x1="534.2" y1="375.8" x2="534.2" y2="386.8" stroke="#000" stroke-width="1.3" />
<line x1="528.2" y1="375.8" x2="540.2" y2="375.8" stroke="#000" stroke-width="1.3" />
<line x1="528.2" y1="386.8" x2="540.2" y2="386.8" stroke="#000" stroke-width="1.3" />
<line x1="523.2" y1="381.8" x2="545.2" y2="381.8" stroke="#000" stroke-width="2.6" />
<line x1="566.9" y1="373.9" x2="566.9" y2="388.4" stroke="#000" stroke-width="1.3" />
<line x1="560.9" y1="373.9" x2="572.9" y2="373.9" stroke="#000" stroke-width="1.3" />
<line x1="560.9" y1="388.4" x2="572.9" y2="388.4" stroke="#000" stroke-width="1.3" />
<line x1="555.9" y1="381.1" x2="577.9" y2="381.1" stroke="#000" stroke-width="2.6" />
<line x1="600.0" y1="350.6" x2="600.0" y2="376.4" stroke="#000" stroke-width="1.3" />
<line x1="594.0" y1="350.6" x2="606.0" y2="350.6" stroke="#000" stroke-width="1.3" />
<line x1="594.0" y1="376.4" x2="606.0" y2="376.4" stroke="#000" stroke-width="1.3" />
<line x1="589.0" y1="363.5" x2="611.0" y2="363.5" stroke="#000" stroke-width="2.6" />
<line x1="632.7" y1="361.6" x2="632.7" y2="389.3" stroke="#000" stroke-width="1.3" />
<line x1="626.7" y1="361.6" x2="638.7" y2="361.6" stroke="#000" stroke-width="1.3" />
<line x1="626.7" y1="389.3" x2="638.7" y2="389.3" stroke="#000" stroke-width="1.3" />
<line x1="621.7" y1="375.5" x2="643.7" y2="375.5" stroke="#000" stroke-width="2.6" />
<text transform="translate(499.2 345.5) rotate(-90)" font-size="8.4" text-anchor="middle" fill="#161616">CldU/IdU ratio</text>
<path d="M530.4 293.3 V291.2 Q530.4 290.2 531.4 290.2 H567.5 Q568.5 290.2 568.5 291.2 V293.3" fill="none" stroke="#000" stroke-width="1.2"/>
<text x="550.7" y="287.0" font-size="6.5" text-anchor="middle" font-weight="normal" fill="#444" >ns</text>
<path d="M530.4 283.0 V278.6 Q530.4 277.6 531.4 277.6 H595.9 Q596.9 277.6 596.9 278.6 V283.0" fill="none" stroke="#000" stroke-width="1.2"/>
<path d="M598.2 283.0 V278.6 Q598.2 277.6 599.2 277.6 H629.6 Q630.6 277.6 630.6 278.6 V283.0" fill="none" stroke="#000" stroke-width="1.2"/>
<path d="M563.6 263.9 V258.6 Q563.6 257.6 564.6 257.6 H628.8 Q629.8 257.6 629.8 258.6 V263.9" fill="none" stroke="#000" stroke-width="1.2"/>
<rect x="558.1" y="271.4" width="1.6" height="1.6" fill="#5a5a5a" />
<rect x="561.0" y="271.4" width="1.6" height="1.6" fill="#5a5a5a" />
<rect x="563.9" y="271.4" width="1.6" height="1.6" fill="#5a5a5a" />
<rect x="566.8" y="271.4" width="1.6" height="1.6" fill="#5a5a5a" />
<rect x="608.2" y="271.4" width="1.6" height="1.6" fill="#5a5a5a" />
<rect x="611.1" y="271.4" width="1.6" height="1.6" fill="#5a5a5a" />
<rect x="614.0" y="271.4" width="1.6" height="1.6" fill="#5a5a5a" />
<rect x="617.0" y="271.4" width="1.6" height="1.6" fill="#5a5a5a" />
<rect x="591.9" y="251.4" width="1.6" height="1.6" fill="#5a5a5a" />
<rect x="594.8" y="251.4" width="1.6" height="1.6" fill="#5a5a5a" />
<rect x="597.7" y="251.4" width="1.6" height="1.6" fill="#5a5a5a" />
<text transform="translate(537.2 406.3) rotate(-45)" font-size="8.6" text-anchor="end" fill="#161616">HAP1 siCtrl</text>
<text transform="translate(569.9 406.3) rotate(-45)" font-size="8.6" text-anchor="end" fill="#161616">HAP1 siPrimpol-3</text>
<text transform="translate(603.0 406.3) rotate(-45)" font-size="8.6" text-anchor="end" fill="#161616">SLFN11 KO Exon 1 siCtrl</text>
<text transform="translate(635.7 406.3) rotate(-45)" font-size="8.6" text-anchor="end" fill="#161616">SLFN11 KO Exon 1 siPrimpol-3</text>
<rect x="295.6" y="595.5" width="5.6" height="8.0" fill="#a8a8a8" />
<rect x="303.3" y="499.1" width="5.6" height="104.4" fill="#a8a8a8" />
<rect x="310.9" y="512.0" width="5.6" height="91.5" fill="#a8a8a8" />
<rect x="318.6" y="552.1" width="5.6" height="51.4" fill="#a8a8a8" />
<rect x="326.3" y="590.7" width="5.6" height="12.8" fill="#a8a8a8" />
<rect x="334.0" y="598.7" width="5.6" height="4.8" fill="#a8a8a8" />
<rect x="334.0" y="573.0" width="5.6" height="30.5" fill="#f77d79" />
<rect x="341.7" y="561.7" width="5.6" height="41.8" fill="#f77d79" />
<rect x="349.3" y="569.8" width="5.6" height="33.7" fill="#f77d79" />
<rect x="357.0" y="563.4" width="5.6" height="40.2" fill="#f77d79" />
<rect x="364.7" y="582.6" width="5.6" height="20.9" fill="#f77d79" />
<rect x="372.4" y="584.2" width="5.6" height="19.3" fill="#f77d79" />
<rect x="380.1" y="587.4" width="5.6" height="16.1" fill="#f77d79" />
<rect x="387.7" y="596.3" width="5.6" height="7.2" fill="#f77d79" />
<rect x="395.4" y="595.5" width="5.6" height="8.0" fill="#f77d79" />
<rect x="403.1" y="598.7" width="5.6" height="4.8" fill="#f77d79" />
<rect x="410.8" y="600.3" width="5.6" height="3.2" fill="#f77d79" />
<rect x="418.5" y="601.9" width="5.6" height="1.6" fill="#f77d79" />
<rect x="441.5" y="601.9" width="5.6" height="1.6" fill="#f77d79" />
<rect x="295.6" y="586.5" width="5.6" height="17.0" fill="#1a8fff" />
<rect x="296.0" y="589.5" width="4.8" height="14.0" fill="#000" />
<rect x="303.7" y="516.0" width="4.8" height="87.5" fill="#000" />
<rect x="311.3" y="529.6" width="4.8" height="73.9" fill="#000" />
<rect x="319.0" y="560.1" width="4.8" height="43.4" fill="#000" />
<rect x="326.7" y="569.8" width="4.8" height="33.7" fill="#000" />
<rect x="334.4" y="581.0" width="4.8" height="22.5" fill="#000" />
<rect x="342.1" y="597.1" width="4.8" height="6.4" fill="#000" />
<path d="M290.7 602.7L292.6 602.4L294.5 602.2L296.5 601.8L298.4 601.4L300.3 600.9L302.2 600.3L304.1 599.6L306.1 598.8L308.0 597.9L309.9 596.9L311.8 595.7L313.7 594.4L315.7 592.9L317.6 591.3L319.5 589.6L321.4 587.8L323.3 585.9L325.3 583.8L327.2 581.8L329.1 579.7L331.0 577.6L332.9 575.6L334.9 573.6L336.8 571.8L338.7 570.1L340.6 568.6L342.5 567.3L344.5 566.3L346.4 565.6L348.3 565.1L350.2 565.0L352.1 565.1L354.1 565.6L356.0 566.3L357.9 567.3L359.8 568.6L361.7 570.1L363.7 571.8L365.6 573.6L367.5 575.6L369.4 577.6L371.3 579.7L373.3 581.8L375.2 583.8L377.1 585.9L379.0 587.8L380.9 589.6L382.9 591.3L384.8 592.9L386.7 594.4L388.6 595.7L390.5 596.9L392.5 597.9L394.4 598.8L396.3 599.6L398.2 600.3L400.1 600.9L402.1 601.4L404.0 601.8L405.9 602.2L407.8 602.4L409.7 602.7L411.7 602.8L413.6 603.0L415.5 603.1L417.4 603.2L419.3 603.3L421.3 603.3L423.2 603.4L425.1 603.4L427.0 603.4L428.9 603.5L430.9 603.5L432.8 603.5L434.7 603.5L436.6 603.5L438.5 603.5L440.5 603.5L442.4 603.5L444.3 603.5" fill="none" stroke="#f77d79" stroke-width="1.8"/>
<path d="M290.7 593.8L291.8 592.5L292.8 591.0L293.9 589.5L294.9 587.9L296.0 586.1L297.0 584.3L298.1 582.3L299.1 580.3L300.2 578.3L301.3 576.2L302.3 574.1L303.4 572.0L304.4 569.9L305.5 567.9L306.5 565.9L307.6 564.0L308.7 562.3L309.7 560.7L310.8 559.3L311.8 558.1L312.9 557.0L313.9 556.2L315.0 555.7L316.0 555.4L317.1 555.3L318.2 555.5L319.2 556.0L320.3 556.7L321.3 557.6L322.4 558.7L323.4 560.0L324.5 561.6L325.5 563.2L326.6 565.0L327.7 567.0L328.7 569.0L329.8 571.0L330.8 573.1L331.9 575.2L332.9 577.3L334.0 579.4L335.1 581.4L336.1 583.4L337.2 585.3L338.2 587.1L339.3 588.8L340.3 590.4L341.4 591.8L342.4 593.2L343.5 594.5L344.6 595.6L345.6 596.6L346.7 597.6L347.7 598.4L348.8 599.1L349.8 599.8L350.9 600.3L351.9 600.8L353.0 601.3L354.1 601.6L355.1 602.0L356.2 602.2L357.2 602.5L358.3 602.7L359.3 602.8L360.4 602.9L361.5 603.1L362.5 603.1L363.6 603.2L364.6 603.3L365.7 603.3L366.7 603.4L367.8 603.4L368.8 603.4L369.9 603.4L371.0 603.5L372.0 603.5L373.1 603.5L374.1 603.5L375.2 603.5" fill="none" stroke="#1a8fff" stroke-width="1.8"/>
<path d="M290.7 602.2L291.4 601.7L292.0 601.1L292.7 600.4L293.4 599.4L294.1 598.3L294.7 596.8L295.4 595.1L296.1 593.0L296.7 590.5L297.4 587.6L298.1 584.3L298.8 580.4L299.4 576.1L300.1 571.3L300.8 566.0L301.5 560.2L302.1 554.1L302.8 547.7L303.5 541.1L304.1 534.4L304.8 527.7L305.5 521.2L306.2 515.0L306.8 509.4L307.5 504.3L308.2 500.1L308.8 496.7L309.5 494.3L310.2 493.0L310.9 492.7L311.5 493.6L312.2 495.5L312.9 498.5L313.5 502.4L314.2 507.1L314.9 512.6L315.6 518.5L316.2 524.9L316.9 531.5L317.6 538.2L318.3 544.9L318.9 551.4L319.6 557.7L320.3 563.6L320.9 569.0L321.6 574.1L322.3 578.6L323.0 582.7L323.6 586.2L324.3 589.3L325.0 592.0L325.6 594.3L326.3 596.1L327.0 597.7L327.7 599.0L328.3 600.0L329.0 600.8L329.7 601.5L330.3 602.0L331.0 602.4L331.7 602.7L332.4 602.9L333.0 603.1L333.7 603.2L334.4 603.3L335.1 603.3L335.7 603.4L336.4 603.4L337.1 603.5L337.7 603.5L338.4 603.5L339.1 603.5L339.8 603.5L340.4 603.5L341.1 603.5L341.8 603.5L342.4 603.5L343.1 603.5L343.8 603.5L344.5 603.5" fill="none" stroke="#b4b4b4" stroke-width="2.2"/>
<path d="M290.7 598.9L292.6 596.3L294.5 592.5L296.5 587.4L298.4 581.0L300.3 573.1L302.2 564.0L304.1 554.3L306.1 544.6L308.0 535.8L309.9 528.6L311.8 524.0L313.7 522.4L315.7 524.0L317.6 528.6L319.5 535.8L321.4 544.6L323.3 554.3L325.3 564.0L327.2 573.1L329.1 581.0L331.0 587.4L332.9 592.5L334.9 596.3L336.8 598.9L338.7 600.7L340.6 601.9L342.5 602.6L344.5 603.0L346.4 603.2L348.3 603.4L350.2 603.4L352.1 603.5L354.1 603.5L356.0 603.5L357.9 603.5L359.8 603.5L361.7 603.5L363.7 603.5L365.6 603.5L367.5 603.5L369.4 603.5L371.3 603.5L373.3 603.5L375.2 603.5L377.1 603.5L379.0 603.5L380.9 603.5L382.9 603.5L384.8 603.5L386.7 603.5L388.6 603.5L390.5 603.5L392.5 603.5L394.4 603.5L396.3 603.5L398.2 603.5L400.1 603.5L402.1 603.5L404.0 603.5L405.9 603.5L407.8 603.5L409.7 603.5L411.7 603.5L413.6 603.5L415.5 603.5L417.4 603.5L419.3 603.5L421.3 603.5L423.2 603.5L425.1 603.5L427.0 603.5L428.9 603.5L430.9 603.5L432.8 603.5L434.7 603.5L436.6 603.5L438.5 603.5L440.5 603.5L442.4 603.5L444.3 603.5" fill="none" stroke="#000" stroke-width="2.1"/>
<line x1="290.7" y1="475.0" x2="290.7" y2="603.5" stroke="#231f20" stroke-width="1.1" />
<line x1="290.7" y1="603.5" x2="482.7" y2="603.5" stroke="#231f20" stroke-width="1.1" />
<line x1="286.7" y1="603.5" x2="290.7" y2="603.5" stroke="#231f20" stroke-width="1.1" />
<text x="284.7" y="606.5" font-size="8.7" text-anchor="end" font-weight="normal" fill="#161616" >0</text>
<line x1="286.7" y1="571.4" x2="290.7" y2="571.4" stroke="#231f20" stroke-width="1.1" />
<text x="284.7" y="574.4" font-size="8.7" text-anchor="end" font-weight="normal" fill="#161616" >20</text>
<line x1="286.7" y1="539.3" x2="290.7" y2="539.3" stroke="#231f20" stroke-width="1.1" />
<text x="284.7" y="542.3" font-size="8.7" text-anchor="end" font-weight="normal" fill="#161616" >40</text>
<line x1="286.7" y1="507.1" x2="290.7" y2="507.1" stroke="#231f20" stroke-width="1.1" />
<text x="284.7" y="510.1" font-size="8.7" text-anchor="end" font-weight="normal" fill="#161616" >60</text>
<line x1="286.7" y1="475.0" x2="290.7" y2="475.0" stroke="#231f20" stroke-width="1.1" />
<text x="284.7" y="478.0" font-size="8.7" text-anchor="end" font-weight="normal" fill="#161616" >80</text>
<line x1="290.7" y1="603.5" x2="290.7" y2="607.0" stroke="#231f20" stroke-width="1.1" />
<text x="290.7" y="619.6" font-size="8.7" text-anchor="middle" font-weight="normal" fill="#161616" >0</text>
<line x1="329.1" y1="603.5" x2="329.1" y2="607.0" stroke="#231f20" stroke-width="1.1" />
<text x="329.1" y="619.6" font-size="8.7" text-anchor="middle" font-weight="normal" fill="#161616" >10</text>
<line x1="367.5" y1="603.5" x2="367.5" y2="607.0" stroke="#231f20" stroke-width="1.1" />
<text x="367.5" y="619.6" font-size="8.7" text-anchor="middle" font-weight="normal" fill="#161616" >20</text>
<line x1="405.9" y1="603.5" x2="405.9" y2="607.0" stroke="#231f20" stroke-width="1.1" />
<text x="405.9" y="619.6" font-size="8.7" text-anchor="middle" font-weight="normal" fill="#161616" >30</text>
<line x1="444.3" y1="603.5" x2="444.3" y2="607.0" stroke="#231f20" stroke-width="1.1" />
<text x="444.3" y="619.6" font-size="8.7" text-anchor="middle" font-weight="normal" fill="#161616" >40</text>
<line x1="482.7" y1="603.5" x2="482.7" y2="607.0" stroke="#231f20" stroke-width="1.1" />
<text x="482.7" y="619.6" font-size="8.7" text-anchor="middle" font-weight="normal" fill="#161616" >50</text>
<text x="392.0" y="636.0" font-size="9.8" text-anchor="middle" font-weight="normal" fill="#161616" >CldU Tract Length (kb)</text>
<text transform="translate(264.6 535.8) rotate(-90)" font-size="9.9" text-anchor="middle" fill="#161616">% Frequency</text>
<line x1="400.9" y1="477.8" x2="415.7" y2="477.8" stroke="#000" stroke-width="1.2" />
<rect x="406.7" y="473.8" width="3.2" height="8.0" fill="#000" />
<text x="422.9" y="481.0" font-size="8.95" text-anchor="start" font-weight="normal" fill="#161616" >HAP1 siCtrl</text>
<line x1="400.9" y1="496.0" x2="415.7" y2="496.0" stroke="#a8a8a8" stroke-width="2.2" />
<rect x="405.8" y="492.0" width="5.0" height="8.0" fill="#a8a8a8" />
<text x="422.9" y="499.2" font-size="8.95" text-anchor="start" font-weight="normal" fill="#161616" >HAP1 siPrimpol-3</text>
<line x1="400.9" y1="514.2" x2="415.7" y2="514.2" stroke="#f77d79" stroke-width="2.2" />
<rect x="405.2" y="509.9" width="6.2" height="8.6" fill="#f77d79" />
<text x="422.9" y="517.4" font-size="8.95" text-anchor="start" font-weight="normal" fill="#161616" >SLFN11 KO Exon 1 siCtrl</text>
<line x1="400.9" y1="532.0" x2="415.7" y2="532.0" stroke="#1a8fff" stroke-width="2.2" />
<rect x="405.8" y="527.8" width="5.0" height="8.4" fill="#1a8fff" />
<text x="422.9" y="535.2" font-size="8.95" text-anchor="start" font-weight="normal" fill="#161616" >SLFN11 KO Exon 1</text>
<text x="422.9" y="548.0" font-size="8.95" text-anchor="start" font-weight="normal" fill="#161616" >siPrimpol-3</text>
<text x="1.5" y="712.8" font-size="19.6" text-anchor="start" font-weight="bold" fill="#000" >D</text>
<line x1="52.7" y1="743.0" x2="52.7" y2="879.4" stroke="#231f20" stroke-width="1.1" />
<line x1="52.7" y1="879.4" x2="312.8" y2="879.4" stroke="#231f20" stroke-width="1.1" />
<line x1="48.7" y1="879.4" x2="52.7" y2="879.4" stroke="#231f20" stroke-width="1.1" />
<text x="46.9" y="882.7" font-size="9.3" text-anchor="end" font-weight="normal" fill="#161616" >0</text>
<line x1="48.7" y1="811.2" x2="52.7" y2="811.2" stroke="#231f20" stroke-width="1.1" />
<text x="46.9" y="814.5" font-size="9.3" text-anchor="end" font-weight="normal" fill="#161616" >50</text>
<line x1="48.7" y1="742.9" x2="52.7" y2="742.9" stroke="#231f20" stroke-width="1.1" />
<text x="46.9" y="746.2" font-size="9.3" text-anchor="end" font-weight="normal" fill="#161616" >100</text>
<line x1="52.7" y1="879.4" x2="52.7" y2="883.4" stroke="#231f20" stroke-width="1.1" />
<text x="52.7" y="895.6" font-size="9.3" text-anchor="middle" font-weight="normal" fill="#161616" >0</text>
<line x1="104.7" y1="879.4" x2="104.7" y2="883.4" stroke="#231f20" stroke-width="1.1" />
<text x="104.7" y="895.6" font-size="9.3" text-anchor="middle" font-weight="normal" fill="#161616" >1</text>
<line x1="156.8" y1="879.4" x2="156.8" y2="883.4" stroke="#231f20" stroke-width="1.1" />
<text x="156.8" y="895.6" font-size="9.3" text-anchor="middle" font-weight="normal" fill="#161616" >2</text>
<line x1="208.8" y1="879.4" x2="208.8" y2="883.4" stroke="#231f20" stroke-width="1.1" />
<text x="208.8" y="895.6" font-size="9.3" text-anchor="middle" font-weight="normal" fill="#161616" >3</text>
<line x1="260.8" y1="879.4" x2="260.8" y2="883.4" stroke="#231f20" stroke-width="1.1" />
<text x="260.8" y="895.6" font-size="9.3" text-anchor="middle" font-weight="normal" fill="#161616" >4</text>
<line x1="312.8" y1="879.4" x2="312.8" y2="883.4" stroke="#231f20" stroke-width="1.1" />
<text x="312.8" y="895.6" font-size="9.3" text-anchor="middle" font-weight="normal" fill="#161616" >5</text>
<text x="183.2" y="907.5" font-size="9.6" text-anchor="middle" font-weight="normal" fill="#161616" >Log[HU] (µM)</text>
<text transform="translate(25.3 810) rotate(-90)" font-size="9.4" text-anchor="middle" fill="#161616">Viability (%)</text>
<line x1="63.1" y1="756.6" x2="63.1" y2="767.5" stroke="#ec1c24" stroke-width="1.1" />
<line x1="59.6" y1="756.6" x2="66.6" y2="756.6" stroke="#ec1c24" stroke-width="1.1" />
<line x1="59.6" y1="767.5" x2="66.6" y2="767.5" stroke="#ec1c24" stroke-width="1.1" />
<line x1="83.9" y1="749.8" x2="83.9" y2="758.0" stroke="#ec1c24" stroke-width="1.1" />
<line x1="80.4" y1="749.8" x2="87.4" y2="749.8" stroke="#ec1c24" stroke-width="1.1" />
<line x1="80.4" y1="758.0" x2="87.4" y2="758.0" stroke="#ec1c24" stroke-width="1.1" />
<line x1="104.7" y1="748.4" x2="104.7" y2="756.6" stroke="#ec1c24" stroke-width="1.1" />
<line x1="101.2" y1="748.4" x2="108.2" y2="748.4" stroke="#ec1c24" stroke-width="1.1" />
<line x1="101.2" y1="756.6" x2="108.2" y2="756.6" stroke="#ec1c24" stroke-width="1.1" />
<line x1="125.5" y1="745.0" x2="125.5" y2="754.5" stroke="#ec1c24" stroke-width="1.1" />
<line x1="122.0" y1="745.0" x2="129.0" y2="745.0" stroke="#ec1c24" stroke-width="1.1" />
<line x1="122.0" y1="754.5" x2="129.0" y2="754.5" stroke="#ec1c24" stroke-width="1.1" />
<line x1="146.4" y1="755.2" x2="146.4" y2="763.4" stroke="#ec1c24" stroke-width="1.1" />
<line x1="142.9" y1="755.2" x2="149.9" y2="755.2" stroke="#ec1c24" stroke-width="1.1" />
<line x1="142.9" y1="763.4" x2="149.9" y2="763.4" stroke="#ec1c24" stroke-width="1.1" />
<path d="M63.1 742.9L64.8 742.9L66.6 742.9L68.3 742.9L70.0 743.0L71.8 743.0L73.5 743.0L75.2 743.0L77.0 743.0L78.7 743.0L80.4 743.0L82.2 743.0L83.9 743.0L85.7 743.0L87.4 743.0L89.1 743.0L90.9 743.0L92.6 743.0L94.3 743.0L96.1 743.1L97.8 743.1L99.5 743.1L101.3 743.1L103.0 743.2L104.7 743.2L106.5 743.3L108.2 743.3L109.9 743.4L111.7 743.5L113.4 743.6L115.1 743.7L116.9 743.8L118.6 744.0L120.3 744.2L122.1 744.4L123.8 744.6L125.5 744.9L127.3 745.3L129.0 745.7L130.7 746.2L132.5 746.8L134.2 747.4L135.9 748.2L137.7 749.1L139.4 750.1L141.2 751.4L142.9 752.8L144.6 754.4L146.4 756.2L148.1 758.3L149.8 760.7L151.6 763.4L153.3 766.5L155.0 769.9L156.8 773.6L158.5 777.7L160.2 782.2L162.0 786.9L163.7 792.0L165.4 797.3L167.2 802.8L168.9 808.4L170.6 814.0L172.4 819.6L174.1 825.0L175.8 830.3L177.6 835.4L179.3 840.2L181.0 844.6L182.8 848.7L184.5 852.5L186.2 855.9L188.0 858.9L189.7 861.6L191.4 864.0L193.2 866.1L194.9 868.0L196.6 869.6L198.4 871.0L200.1 872.2L201.9 873.2L203.6 874.1L205.3 874.9L207.1 875.6L208.8 876.1L210.5 876.6L212.3 877.0L214.0 877.4L215.7 877.7L217.5 878.0L219.2 878.2L220.9 878.4L222.7 878.5L224.4 878.6L226.1 878.8L227.9 878.9L229.6 878.9L231.3 879.0L233.1 879.1L234.8 879.1L236.5 879.2L238.3 879.2L240.0 879.2L241.7 879.3L243.5 879.3L245.2 879.3L246.9 879.3L248.7 879.3L250.4 879.3L252.1 879.3L253.9 879.4L255.6 879.4L257.4 879.4L259.1 879.4L260.8 879.4L262.6 879.4L264.3 879.4L266.0 879.4L267.8 879.4L269.5 879.4L271.2 879.4" fill="none" stroke="#ec1c24" stroke-width="1.6"/>
<line x1="63.1" y1="759.3" x2="63.1" y2="767.5" stroke="#2e3192" stroke-width="1.1" />
<line x1="59.6" y1="759.3" x2="66.6" y2="759.3" stroke="#2e3192" stroke-width="1.1" />
<line x1="59.6" y1="767.5" x2="66.6" y2="767.5" stroke="#2e3192" stroke-width="1.1" />
<line x1="83.9" y1="747.0" x2="83.9" y2="752.5" stroke="#2e3192" stroke-width="1.1" />
<line x1="80.4" y1="747.0" x2="87.4" y2="747.0" stroke="#2e3192" stroke-width="1.1" />
<line x1="80.4" y1="752.5" x2="87.4" y2="752.5" stroke="#2e3192" stroke-width="1.1" />
<line x1="104.7" y1="745.7" x2="104.7" y2="751.1" stroke="#2e3192" stroke-width="1.1" />
<line x1="101.2" y1="745.7" x2="108.2" y2="745.7" stroke="#2e3192" stroke-width="1.1" />
<line x1="101.2" y1="751.1" x2="108.2" y2="751.1" stroke="#2e3192" stroke-width="1.1" />
<line x1="125.5" y1="749.8" x2="125.5" y2="755.2" stroke="#2e3192" stroke-width="1.1" />
<line x1="122.0" y1="749.8" x2="129.0" y2="749.8" stroke="#2e3192" stroke-width="1.1" />
<line x1="122.0" y1="755.2" x2="129.0" y2="755.2" stroke="#2e3192" stroke-width="1.1" />
<line x1="146.4" y1="747.7" x2="146.4" y2="753.2" stroke="#2e3192" stroke-width="1.1" />
<line x1="142.9" y1="747.7" x2="149.9" y2="747.7" stroke="#2e3192" stroke-width="1.1" />
<line x1="142.9" y1="753.2" x2="149.9" y2="753.2" stroke="#2e3192" stroke-width="1.1" />
<path d="M63.1 744.1L64.8 744.2L66.6 744.3L68.3 744.4L70.0 744.4L71.8 744.5L73.5 744.6L75.2 744.7L77.0 744.8L78.7 744.9L80.4 745.1L82.2 745.2L83.9 745.3L85.7 745.4L87.4 745.6L89.1 745.7L90.9 745.9L92.6 746.1L94.3 746.3L96.1 746.4L97.8 746.7L99.5 746.9L101.3 747.1L103.0 747.3L104.7 747.6L106.5 747.8L108.2 748.1L109.9 748.4L111.7 748.7L113.4 749.1L115.1 749.4L116.9 749.8L118.6 750.1L120.3 750.5L122.1 751.0L123.8 751.4L125.5 751.9L127.3 752.4L129.0 752.9L130.7 753.4L132.5 754.0L134.2 754.6L135.9 755.2L137.7 755.9L139.4 756.6L141.2 757.3L142.9 758.0L144.6 758.8L146.4 759.7L148.1 760.5L149.8 761.4L151.6 762.3L153.3 763.3L155.0 764.3L156.8 765.4L158.5 766.5L160.2 767.6L162.0 768.8L163.7 770.0L165.4 771.3L167.2 772.6L168.9 773.9L170.6 775.3L172.4 776.7L174.1 778.2L175.8 779.7L177.6 781.3L179.3 782.8L181.0 784.5L182.8 786.1L184.5 787.8L186.2 789.5L188.0 791.3L189.7 793.1L191.4 794.9L193.2 796.7L194.9 798.5L196.6 800.4L198.4 802.3L200.1 804.2L201.9 806.1L203.6 808.0L205.3 809.9L207.1 811.8L208.8 813.7L210.5 815.6L212.3 817.5L214.0 819.3L215.7 821.2L217.5 823.0L219.2 824.8L220.9 826.6L222.7 828.4L224.4 830.1L226.1 831.8L227.9 833.5L229.6 835.1L231.3 836.7L233.1 838.2L234.8 839.7L236.5 841.2L238.3 842.7L240.0 844.1L241.7 845.4L243.5 846.7L245.2 848.0L246.9 849.2L248.7 850.4L250.4 851.5L252.1 852.6L253.9 853.7L255.6 854.7L257.4 855.7L259.1 856.7L260.8 857.6L262.6 858.4L264.3 859.3L266.0 860.0L267.8 860.8L269.5 861.5L271.2 862.2" fill="none" stroke="#2e3192" stroke-width="1.6"/>
<line x1="63.1" y1="762.0" x2="63.1" y2="775.7" stroke="#0b7a0b" stroke-width="1.1" />
<line x1="59.6" y1="762.0" x2="66.6" y2="762.0" stroke="#0b7a0b" stroke-width="1.1" />
<line x1="59.6" y1="775.7" x2="66.6" y2="775.7" stroke="#0b7a0b" stroke-width="1.1" />
<line x1="83.9" y1="755.8" x2="83.9" y2="764.0" stroke="#0b7a0b" stroke-width="1.1" />
<line x1="80.4" y1="755.8" x2="87.4" y2="755.8" stroke="#0b7a0b" stroke-width="1.1" />
<line x1="80.4" y1="764.0" x2="87.4" y2="764.0" stroke="#0b7a0b" stroke-width="1.1" />
<line x1="104.7" y1="756.2" x2="104.7" y2="765.7" stroke="#0b7a0b" stroke-width="1.1" />
<line x1="101.2" y1="756.2" x2="108.2" y2="756.2" stroke="#0b7a0b" stroke-width="1.1" />
<line x1="101.2" y1="765.7" x2="108.2" y2="765.7" stroke="#0b7a0b" stroke-width="1.1" />
<line x1="125.5" y1="758.2" x2="125.5" y2="767.8" stroke="#0b7a0b" stroke-width="1.1" />
<line x1="122.0" y1="758.2" x2="129.0" y2="758.2" stroke="#0b7a0b" stroke-width="1.1" />
<line x1="122.0" y1="767.8" x2="129.0" y2="767.8" stroke="#0b7a0b" stroke-width="1.1" />
<line x1="146.4" y1="771.6" x2="146.4" y2="786.6" stroke="#0b7a0b" stroke-width="1.1" />
<line x1="142.9" y1="771.6" x2="149.9" y2="771.6" stroke="#0b7a0b" stroke-width="1.1" />
<line x1="142.9" y1="786.6" x2="149.9" y2="786.6" stroke="#0b7a0b" stroke-width="1.1" />
<line x1="167.2" y1="824.4" x2="167.2" y2="838.1" stroke="#0b7a0b" stroke-width="1.1" />
<line x1="163.7" y1="824.4" x2="170.7" y2="824.4" stroke="#0b7a0b" stroke-width="1.1" />
<line x1="163.7" y1="838.1" x2="170.7" y2="838.1" stroke="#0b7a0b" stroke-width="1.1" />
<path d="M63.1 743.0L64.8 743.0L66.6 743.0L68.3 743.0L70.0 743.1L71.8 743.1L73.5 743.1L75.2 743.1L77.0 743.1L78.7 743.2L80.4 743.2L82.2 743.2L83.9 743.3L85.7 743.3L87.4 743.4L89.1 743.4L90.9 743.5L92.6 743.6L94.3 743.7L96.1 743.8L97.8 743.9L99.5 744.1L101.3 744.3L103.0 744.5L104.7 744.7L106.5 744.9L108.2 745.2L109.9 745.5L111.7 745.9L113.4 746.4L115.1 746.9L116.9 747.4L118.6 748.1L120.3 748.8L122.1 749.6L123.8 750.5L125.5 751.6L127.3 752.8L129.0 754.1L130.7 755.6L132.5 757.3L134.2 759.2L135.9 761.2L137.7 763.5L139.4 766.1L141.2 768.9L142.9 771.9L144.6 775.2L146.4 778.7L148.1 782.4L149.8 786.4L151.6 790.6L153.3 795.0L155.0 799.5L156.8 804.1L158.5 808.8L160.2 813.5L162.0 818.2L163.7 822.8L165.4 827.4L167.2 831.7L168.9 835.9L170.6 839.9L172.4 843.7L174.1 847.2L175.8 850.5L177.6 853.5L179.3 856.3L181.0 858.8L182.8 861.1L184.5 863.2L186.2 865.1L188.0 866.7L189.7 868.2L191.4 869.6L193.2 870.8L194.9 871.8L196.6 872.7L198.4 873.6L200.1 874.3L201.9 874.9L203.6 875.5L205.3 876.0L207.1 876.4L208.8 876.8L210.5 877.1L212.3 877.4L214.0 877.7L215.7 877.9L217.5 878.1L219.2 878.2L220.9 878.4L222.7 878.5L224.4 878.6L226.1 878.7L227.9 878.8L229.6 878.9L231.3 879.0L233.1 879.0L234.8 879.1L236.5 879.1L238.3 879.1L240.0 879.2L241.7 879.2L243.5 879.2L245.2 879.3L246.9 879.3L248.7 879.3L250.4 879.3L252.1 879.3L253.9 879.3L255.6 879.3L257.4 879.3L259.1 879.4L260.8 879.4L262.6 879.4L264.3 879.4L266.0 879.4L267.8 879.4L269.5 879.4L271.2 879.4" fill="none" stroke="#0b7a0b" stroke-width="1.6"/>
<line x1="63.1" y1="747.7" x2="63.1" y2="753.2" stroke="#7b0fd0" stroke-width="1.1" />
<line x1="59.6" y1="747.7" x2="66.6" y2="747.7" stroke="#7b0fd0" stroke-width="1.1" />
<line x1="59.6" y1="753.2" x2="66.6" y2="753.2" stroke="#7b0fd0" stroke-width="1.1" />
<line x1="83.9" y1="745.7" x2="83.9" y2="751.1" stroke="#7b0fd0" stroke-width="1.1" />
<line x1="80.4" y1="745.7" x2="87.4" y2="745.7" stroke="#7b0fd0" stroke-width="1.1" />
<line x1="80.4" y1="751.1" x2="87.4" y2="751.1" stroke="#7b0fd0" stroke-width="1.1" />
<line x1="104.7" y1="744.3" x2="104.7" y2="749.8" stroke="#7b0fd0" stroke-width="1.1" />
<line x1="101.2" y1="744.3" x2="108.2" y2="744.3" stroke="#7b0fd0" stroke-width="1.1" />
<line x1="101.2" y1="749.8" x2="108.2" y2="749.8" stroke="#7b0fd0" stroke-width="1.1" />
<line x1="125.5" y1="742.5" x2="125.5" y2="748.0" stroke="#7b0fd0" stroke-width="1.1" />
<line x1="122.0" y1="742.5" x2="129.0" y2="742.5" stroke="#7b0fd0" stroke-width="1.1" />
<line x1="122.0" y1="748.0" x2="129.0" y2="748.0" stroke="#7b0fd0" stroke-width="1.1" />
<line x1="146.4" y1="753.9" x2="146.4" y2="759.3" stroke="#7b0fd0" stroke-width="1.1" />
<line x1="142.9" y1="753.9" x2="149.9" y2="753.9" stroke="#7b0fd0" stroke-width="1.1" />
<line x1="142.9" y1="759.3" x2="149.9" y2="759.3" stroke="#7b0fd0" stroke-width="1.1" />
<path d="M63.1 743.4L64.8 743.5L66.6 743.5L68.3 743.5L70.0 743.6L71.8 743.6L73.5 743.7L75.2 743.8L77.0 743.8L78.7 743.9L80.4 744.0L82.2 744.1L83.9 744.1L85.7 744.2L87.4 744.3L89.1 744.5L90.9 744.6L92.6 744.7L94.3 744.8L96.1 745.0L97.8 745.2L99.5 745.3L101.3 745.5L103.0 745.7L104.7 745.9L106.5 746.2L108.2 746.4L109.9 746.7L111.7 747.0L113.4 747.3L115.1 747.6L116.9 748.0L118.6 748.4L120.3 748.8L122.1 749.2L123.8 749.7L125.5 750.2L127.3 750.8L129.0 751.3L130.7 752.0L132.5 752.6L134.2 753.3L135.9 754.1L137.7 754.9L139.4 755.8L141.2 756.7L142.9 757.7L144.6 758.7L146.4 759.8L148.1 761.0L149.8 762.2L151.6 763.5L153.3 764.9L155.0 766.4L156.8 767.9L158.5 769.5L160.2 771.2L162.0 772.9L163.7 774.8L165.4 776.7L167.2 778.7L168.9 780.7L170.6 782.9L172.4 785.1L174.1 787.3L175.8 789.7L177.6 792.1L179.3 794.5L181.0 797.0L182.8 799.5L184.5 802.1L186.2 804.6L188.0 807.2L189.7 809.9L191.4 812.5L193.2 815.1L194.9 817.7L196.6 820.3L198.4 822.8L200.1 825.4L201.9 827.8L203.6 830.3L205.3 832.7L207.1 835.0L208.8 837.3L210.5 839.5L212.3 841.6L214.0 843.7L215.7 845.6L217.5 847.6L219.2 849.4L220.9 851.2L222.7 852.8L224.4 854.4L226.1 856.0L227.9 857.4L229.6 858.8L231.3 860.1L233.1 861.3L234.8 862.5L236.5 863.6L238.3 864.7L240.0 865.6L241.7 866.6L243.5 867.4L245.2 868.2L246.9 869.0L248.7 869.7L250.4 870.4L252.1 871.0L253.9 871.6L255.6 872.1L257.4 872.6L259.1 873.1L260.8 873.6L262.6 874.0L264.3 874.4L266.0 874.7L267.8 875.1L269.5 875.4L271.2 875.7" fill="none" stroke="#7b0fd0" stroke-width="1.6"/>
<line x1="63.1" y1="746.4" x2="63.1" y2="751.8" stroke="#f0952f" stroke-width="1.1" />
<line x1="59.6" y1="746.4" x2="66.6" y2="746.4" stroke="#f0952f" stroke-width="1.1" />
<line x1="59.6" y1="751.8" x2="66.6" y2="751.8" stroke="#f0952f" stroke-width="1.1" />
<line x1="83.9" y1="749.8" x2="83.9" y2="755.2" stroke="#f0952f" stroke-width="1.1" />
<line x1="80.4" y1="749.8" x2="87.4" y2="749.8" stroke="#f0952f" stroke-width="1.1" />
<line x1="80.4" y1="755.2" x2="87.4" y2="755.2" stroke="#f0952f" stroke-width="1.1" />
<line x1="104.7" y1="753.9" x2="104.7" y2="762.0" stroke="#f0952f" stroke-width="1.1" />
<line x1="101.2" y1="753.9" x2="108.2" y2="753.9" stroke="#f0952f" stroke-width="1.1" />
<line x1="101.2" y1="762.0" x2="108.2" y2="762.0" stroke="#f0952f" stroke-width="1.1" />
<line x1="125.5" y1="755.2" x2="125.5" y2="763.4" stroke="#f0952f" stroke-width="1.1" />
<line x1="122.0" y1="755.2" x2="129.0" y2="755.2" stroke="#f0952f" stroke-width="1.1" />
<line x1="122.0" y1="763.4" x2="129.0" y2="763.4" stroke="#f0952f" stroke-width="1.1" />
<line x1="146.4" y1="763.0" x2="146.4" y2="771.2" stroke="#f0952f" stroke-width="1.1" />
<line x1="142.9" y1="763.0" x2="149.9" y2="763.0" stroke="#f0952f" stroke-width="1.1" />
<line x1="142.9" y1="771.2" x2="149.9" y2="771.2" stroke="#f0952f" stroke-width="1.1" />
<path d="M63.1 746.9L64.8 747.0L66.6 747.2L68.3 747.4L70.0 747.6L71.8 747.8L73.5 748.1L75.2 748.3L77.0 748.5L78.7 748.8L80.4 749.0L82.2 749.3L83.9 749.6L85.7 749.9L87.4 750.2L89.1 750.5L90.9 750.9L92.6 751.2L94.3 751.6L96.1 752.0L97.8 752.4L99.5 752.8L101.3 753.2L103.0 753.6L104.7 754.1L106.5 754.6L108.2 755.1L109.9 755.6L111.7 756.1L113.4 756.7L115.1 757.3L116.9 757.9L118.6 758.5L120.3 759.2L122.1 759.8L123.8 760.5L125.5 761.2L127.3 762.0L129.0 762.8L130.7 763.5L132.5 764.4L134.2 765.2L135.9 766.1L137.7 767.0L139.4 767.9L141.2 768.9L142.9 769.8L144.6 770.8L146.4 771.9L148.1 772.9L149.8 774.0L151.6 775.2L153.3 776.3L155.0 777.5L156.8 778.7L158.5 779.9L160.2 781.2L162.0 782.4L163.7 783.7L165.4 785.1L167.2 786.4L168.9 787.8L170.6 789.2L172.4 790.6L174.1 792.1L175.8 793.5L177.6 795.0L179.3 796.5L181.0 798.0L182.8 799.5L184.5 801.0L186.2 802.6L188.0 804.1L189.7 805.7L191.4 807.2L193.2 808.8L194.9 810.4L196.6 812.0L198.4 813.5L200.1 815.1L201.9 816.7L203.6 818.2L205.3 819.8L207.1 821.3L208.8 822.8L210.5 824.4L212.3 825.9L214.0 827.4L215.7 828.8L217.5 830.3L219.2 831.7L220.9 833.1L222.7 834.5L224.4 835.9L226.1 837.3L227.9 838.6L229.6 839.9L231.3 841.2L233.1 842.4L234.8 843.7L236.5 844.9L238.3 846.0L240.0 847.2L241.7 848.3L243.5 849.4L245.2 850.5L246.9 851.5L248.7 852.5L250.4 853.5L252.1 854.4L253.9 855.4L255.6 856.3L257.4 857.1L259.1 858.0L260.8 858.8L262.6 859.6L264.3 860.4L266.0 861.1L267.8 861.8L269.5 862.5L271.2 863.2" fill="none" stroke="#f0952f" stroke-width="1.6"/>
<path d="M63.1 744.8L67.4 749.1L63.1 753.4L58.8 749.1Z" fill="#f0952f"/>
<path d="M83.9 748.2L88.2 752.5L83.9 756.8L79.6 752.5Z" fill="#f0952f"/>
<path d="M104.7 753.7L109.0 758.0L104.7 762.3L100.4 758.0Z" fill="#f0952f"/>
<path d="M125.5 755.0L129.8 759.3L125.5 763.6L121.2 759.3Z" fill="#f0952f"/>
<path d="M146.4 762.8L150.7 767.1L146.4 771.4L142.1 767.1Z" fill="#f0952f"/>
<path d="M167.2 777.5L171.5 781.8L167.2 786.1L162.9 781.8Z" fill="#f0952f"/>
<path d="M188.0 802.1L192.3 806.4L188.0 810.7L183.7 806.4Z" fill="#f0952f"/>
<path d="M208.8 827.9L213.1 832.2L208.8 836.5L204.5 832.2Z" fill="#f0952f"/>
<path d="M229.6 846.2L233.9 850.5L229.6 854.8L225.3 850.5Z" fill="#f0952f"/>
<path d="M250.4 846.4L254.7 850.7L250.4 855.0L246.1 850.7Z" fill="#f0952f"/>
<path d="M271.2 840.0L275.5 844.3L271.2 848.6L266.9 844.3Z" fill="#f0952f"/>
<path d="M63.1 764.7L67.3 772.2L58.9 772.2Z" fill="#0b7a0b"/>
<path d="M83.9 755.7L88.1 763.2L79.7 763.2Z" fill="#0b7a0b"/>
<path d="M104.7 756.8L108.9 764.3L100.5 764.3Z" fill="#0b7a0b"/>
<path d="M125.5 758.8L129.7 766.4L121.3 766.4Z" fill="#0b7a0b"/>
<path d="M146.4 774.9L150.6 782.5L142.2 782.5Z" fill="#0b7a0b"/>
<path d="M167.2 827.0L171.4 834.6L163.0 834.6Z" fill="#0b7a0b"/>
<path d="M188.0 865.4L192.2 872.9L183.8 872.9Z" fill="#0b7a0b"/>
<path d="M208.8 874.5L213.0 882.1L204.6 882.1Z" fill="#0b7a0b"/>
<path d="M229.6 874.9L233.8 882.5L225.4 882.5Z" fill="#0b7a0b"/>
<path d="M250.4 874.9L254.6 882.5L246.2 882.5Z" fill="#0b7a0b"/>
<path d="M271.2 874.9L275.4 882.5L267.0 882.5Z" fill="#0b7a0b"/>
<rect x="59.6" y="759.9" width="7.0" height="7.0" fill="#2e3192" />
<rect x="80.4" y="746.3" width="7.0" height="7.0" fill="#2e3192" />
<rect x="101.2" y="744.9" width="7.0" height="7.0" fill="#2e3192" />
<rect x="122.0" y="749.0" width="7.0" height="7.0" fill="#2e3192" />
<rect x="142.9" y="746.9" width="7.0" height="7.0" fill="#2e3192" />
<rect x="163.7" y="760.3" width="7.0" height="7.0" fill="#2e3192" />
<rect x="184.5" y="783.8" width="7.0" height="7.0" fill="#2e3192" />
<rect x="205.3" y="818.2" width="7.0" height="7.0" fill="#2e3192" />
<rect x="226.1" y="839.7" width="7.0" height="7.0" fill="#2e3192" />
<rect x="246.9" y="843.4" width="7.0" height="7.0" fill="#2e3192" />
<rect x="267.7" y="845.6" width="7.0" height="7.0" fill="#2e3192" />
<path d="M63.1 754.6L67.3 747.1L58.9 747.1Z" fill="#7b0fd0"/>
<path d="M83.9 752.6L88.1 745.0L79.7 745.0Z" fill="#7b0fd0"/>
<path d="M104.7 751.2L108.9 743.7L100.5 743.7Z" fill="#7b0fd0"/>
<path d="M125.5 749.5L129.7 741.9L121.3 741.9Z" fill="#7b0fd0"/>
<path d="M146.4 760.8L150.6 753.2L142.2 753.2Z" fill="#7b0fd0"/>
<path d="M167.2 780.6L171.4 773.0L163.0 773.0Z" fill="#7b0fd0"/>
<path d="M188.0 826.6L192.2 819.0L183.8 819.0Z" fill="#7b0fd0"/>
<path d="M208.8 848.5L213.0 841.0L204.6 841.0Z" fill="#7b0fd0"/>
<path d="M229.6 862.7L233.8 855.2L225.4 855.2Z" fill="#7b0fd0"/>
<path d="M250.4 862.7L254.6 855.2L246.2 855.2Z" fill="#7b0fd0"/>
<path d="M271.2 862.2L275.4 854.6L267.0 854.6Z" fill="#7b0fd0"/>
<circle cx="63.1" cy="762.0" r="3.8" fill="#ec1c24"/>
<circle cx="83.9" cy="753.9" r="3.8" fill="#ec1c24"/>
<circle cx="104.7" cy="752.5" r="3.8" fill="#ec1c24"/>
<circle cx="125.5" cy="749.8" r="3.8" fill="#ec1c24"/>
<circle cx="146.4" cy="759.3" r="3.8" fill="#ec1c24"/>
<circle cx="167.2" cy="804.2" r="3.8" fill="#ec1c24"/>
<circle cx="188.0" cy="859.2" r="3.8" fill="#ec1c24"/>
<circle cx="208.8" cy="876.5" r="3.8" fill="#ec1c24"/>
<circle cx="229.6" cy="878.7" r="3.8" fill="#ec1c24"/>
<circle cx="250.4" cy="879.0" r="3.8" fill="#ec1c24"/>
<circle cx="271.2" cy="879.0" r="3.8" fill="#ec1c24"/>
<line x1="297.5" y1="743.7" x2="309.2" y2="743.7" stroke="#ec1c24" stroke-width="1.3" />
<circle cx="303.4" cy="743.7" r="4.1" fill="#ec1c24"/>
<text x="315.9" y="746.8" font-size="8.8" text-anchor="start" font-weight="normal" fill="#161616" >Parental</text>
<line x1="297.5" y1="758.3" x2="309.2" y2="758.3" stroke="#2e3192" stroke-width="1.3" />
<rect x="299.6" y="754.5" width="7.6" height="7.6" fill="#2e3192" />
<text x="315.9" y="761.4" font-size="8.8" text-anchor="start" font-weight="normal" fill="#161616" >SLFN11 KO Exon 1</text>
<line x1="297.5" y1="772.9" x2="309.2" y2="772.9" stroke="#0b7a0b" stroke-width="1.3" />
<path d="M303.4 768.4L307.9 776.5L298.9 776.5Z" fill="#0b7a0b"/>
<text x="315.9" y="776.0" font-size="8.8" text-anchor="start" font-weight="normal" fill="#161616" >RFWD3 KO g2</text>
<line x1="297.5" y1="786.1" x2="309.2" y2="786.1" stroke="#7b0fd0" stroke-width="1.3" />
<path d="M303.4 790.6L307.9 782.5L298.9 782.5Z" fill="#7b0fd0"/>
<text x="315.9" y="789.2" font-size="8.8" text-anchor="start" font-weight="normal" fill="#161616" >SLFN11 KO Exon 1</text>
<text x="315.9" y="800.3" font-size="8.8" text-anchor="start" font-weight="normal" fill="#161616" >RFWD3 KO g2 c04</text>
<line x1="297.5" y1="810.9" x2="309.2" y2="810.9" stroke="#f0952f" stroke-width="1.3" />
<path d="M303.4 806.3L308.0 810.9L303.4 815.5L298.8 810.9Z" fill="#f0952f"/>
<text x="315.9" y="814.0" font-size="8.8" text-anchor="start" font-weight="normal" fill="#161616" >SLFN11 KO Exon 1</text>
<text x="315.9" y="825.1" font-size="8.8" text-anchor="start" font-weight="normal" fill="#161616" >PrimPol KO g1 c01</text>
<line x1="533.8" y1="715.4" x2="533.8" y2="860.7" stroke="#231f20" stroke-width="1.1" />
<line x1="533.8" y1="860.7" x2="683.5" y2="860.7" stroke="#231f20" stroke-width="1.1" />
<line x1="529.8" y1="860.7" x2="533.8" y2="860.7" stroke="#231f20" stroke-width="1.1" />
<text x="527.3" y="864.1" font-size="9.6" text-anchor="end" font-weight="normal" fill="#161616" >0</text>
<line x1="529.8" y1="824.4" x2="533.8" y2="824.4" stroke="#231f20" stroke-width="1.1" />
<text x="527.3" y="827.8" font-size="9.6" text-anchor="end" font-weight="normal" fill="#161616" >300</text>
<line x1="529.8" y1="788.1" x2="533.8" y2="788.1" stroke="#231f20" stroke-width="1.1" />
<text x="527.3" y="791.5" font-size="9.6" text-anchor="end" font-weight="normal" fill="#161616" >600</text>
<line x1="529.8" y1="751.7" x2="533.8" y2="751.7" stroke="#231f20" stroke-width="1.1" />
<text x="527.3" y="755.1" font-size="9.6" text-anchor="end" font-weight="normal" fill="#161616" >900</text>
<line x1="529.8" y1="715.4" x2="533.8" y2="715.4" stroke="#231f20" stroke-width="1.1" />
<text x="527.3" y="718.8" font-size="9.6" text-anchor="end" font-weight="normal" fill="#161616" >1200</text>
<rect x="539.0" y="840.5" width="25.6" height="20.2" fill="#e8121f" stroke="#222" stroke-width="0.9"/>
<line x1="551.8" y1="837.7" x2="551.8" y2="842.5" stroke="#222" stroke-width="0.9" />
<line x1="547.3" y1="837.7" x2="556.3" y2="837.7" stroke="#222" stroke-width="0.9" />
<line x1="547.3" y1="842.5" x2="556.3" y2="842.5" stroke="#222" stroke-width="0.9" />
<line x1="551.8" y1="860.7" x2="551.8" y2="864.7" stroke="#231f20" stroke-width="1.1" />
<text transform="translate(554.1 873.0) rotate(-45)" font-size="9.4" text-anchor="end" fill="#161616">Parental</text>
<rect x="567.7" y="848.0" width="25.6" height="12.7" fill="#1b6e13" stroke="#222" stroke-width="0.9"/>
<line x1="580.5" y1="845.3" x2="580.5" y2="850.0" stroke="#222" stroke-width="0.9" />
<line x1="576.0" y1="845.3" x2="585.0" y2="845.3" stroke="#222" stroke-width="0.9" />
<line x1="576.0" y1="850.0" x2="585.0" y2="850.0" stroke="#222" stroke-width="0.9" />
<line x1="580.5" y1="860.7" x2="580.5" y2="864.7" stroke="#231f20" stroke-width="1.1" />
<text transform="translate(582.8 873.0) rotate(-45)" font-size="9.4" text-anchor="end" fill="#161616">RFWD3 KO g2</text>
<rect x="596.6" y="748.6" width="25.6" height="112.1" fill="#21239b" stroke="#222" stroke-width="0.9"/>
<line x1="609.4" y1="722.9" x2="609.4" y2="768.2" stroke="#222" stroke-width="0.9" />
<line x1="604.9" y1="722.9" x2="613.9" y2="722.9" stroke="#222" stroke-width="0.9" />
<line x1="604.9" y1="768.2" x2="613.9" y2="768.2" stroke="#222" stroke-width="0.9" />
<line x1="609.4" y1="860.7" x2="609.4" y2="864.7" stroke="#231f20" stroke-width="1.1" />
<text transform="translate(611.7 873.0) rotate(-45)" font-size="9.4" text-anchor="end" fill="#161616">SLFN11 KO Exon 1</text>
<rect x="625.5" y="816.9" width="25.6" height="43.8" fill="#7504ad" stroke="#222" stroke-width="0.9"/>
<line x1="638.3" y1="809.4" x2="638.3" y2="822.3" stroke="#222" stroke-width="0.9" />
<line x1="633.8" y1="809.4" x2="642.8" y2="809.4" stroke="#222" stroke-width="0.9" />
<line x1="633.8" y1="822.3" x2="642.8" y2="822.3" stroke="#222" stroke-width="0.9" />
<line x1="638.3" y1="860.7" x2="638.3" y2="864.7" stroke="#231f20" stroke-width="1.1" />
<text transform="translate(640.6 873.0) rotate(-45)" font-size="9.4" text-anchor="end" fill="#161616">SLFN11 KO Exon 1 RFWD3 KO g2 C04</text>
<rect x="654.1" y="797.1" width="25.6" height="63.6" fill="#ef7f2a" stroke="#222" stroke-width="0.9"/>
<line x1="666.9" y1="779.7" x2="666.9" y2="810.2" stroke="#222" stroke-width="0.9" />
<line x1="662.4" y1="779.7" x2="671.4" y2="779.7" stroke="#222" stroke-width="0.9" />
<line x1="662.4" y1="810.2" x2="671.4" y2="810.2" stroke="#222" stroke-width="0.9" />
<line x1="666.9" y1="860.7" x2="666.9" y2="864.7" stroke="#231f20" stroke-width="1.1" />
<text transform="translate(669.2 873.0) rotate(-45)" font-size="9.4" text-anchor="end" fill="#161616">SLFN11 KO Exon 1 PrimPol g1 c01</text>
<text transform="translate(496.3 788) rotate(-90)" font-size="9.2" text-anchor="middle" fill="#161616">EC<tspan font-size="7" dy="3">50</tspan><tspan dy="-3"> ( µM )</tspan></text>
</svg>
</body></html>
